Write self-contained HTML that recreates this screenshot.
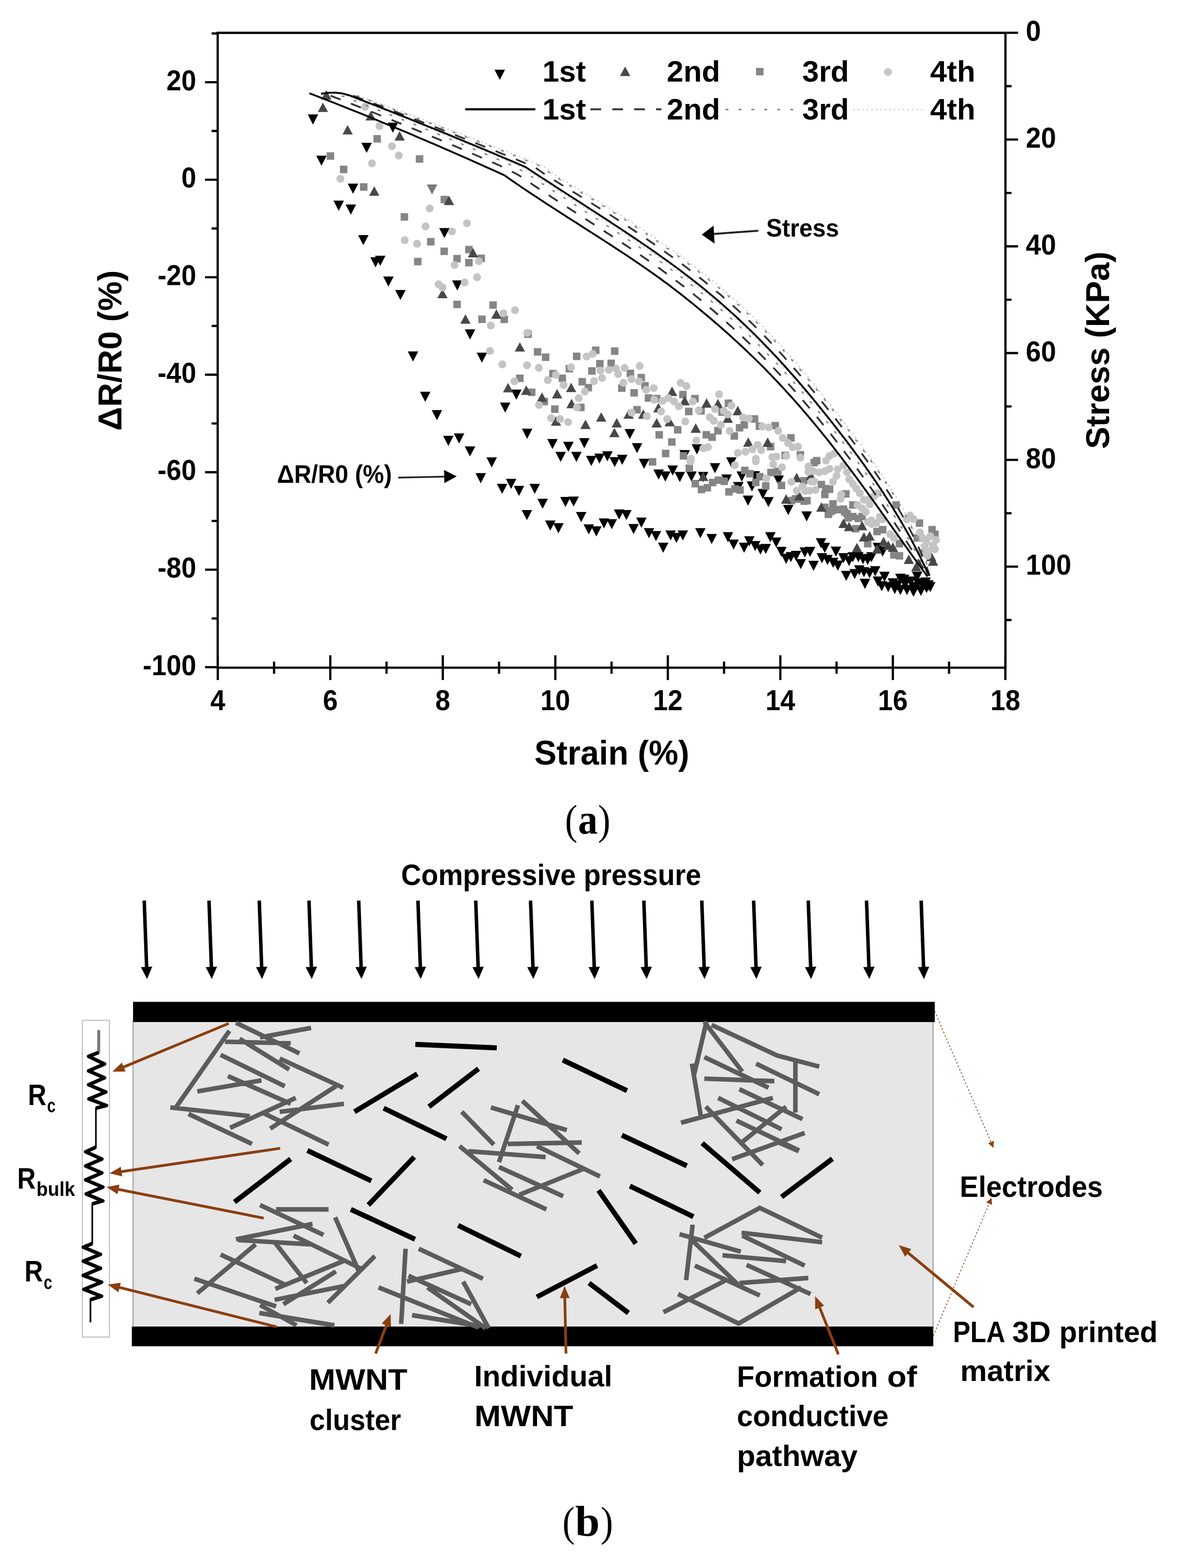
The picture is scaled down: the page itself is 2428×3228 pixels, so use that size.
<!DOCTYPE html>
<html lang="en"><head><meta charset="utf-8"><title>Figure</title>
<style>html,body{margin:0;padding:0;background:#fff}body{width:2428px;height:3228px;overflow:hidden}svg{display:block}text{white-space:pre}</style>
</head><body>
<svg width="2428" height="3228" viewBox="0 0 2428 3228"><g id="chart">
<g id="m1"><path d="M633.7 235.6h21.6L644.5 256.4z" fill="#000"/><path d="M651.2 320.4h21.6L662 341.2z" fill="#000"/><path d="M744.2 294h21.6L755 314.8z" fill="#000"/><path d="M798.2 252.4h21.6L809 273.2z" fill="#000"/><path d="M716.2 378.1h21.6L727 398.9z" fill="#000"/><path d="M686.7 413.1h21.6L697.5 433.9z" fill="#000"/><path d="M711.7 421.1h21.6L722.5 441.9z" fill="#000"/><path d="M737.4 483.9h21.6L748.2 504.7z" fill="#000"/><path d="M762.6 529.6h21.6L773.4 550.4z" fill="#000"/><path d="M772.2 526.5h21.6L783 547.3z" fill="#000"/><path d="M789.1 569.3h21.6L799.9 590.1z" fill="#000"/><path d="M813.8 596.9h21.6L824.6 617.7z" fill="#000"/><path d="M904.4 469.5h21.6L915.2 490.3z" fill="#000"/><path d="M930.9 577.2h21.6L941.7 598z" fill="#000"/><path d="M957.2 678.1h21.6L968 698.9z" fill="#000"/><path d="M839.7 723.5h21.6L850.5 744.3z" fill="#000"/><path d="M981.5 725.9h21.6L992.3 746.7z" fill="#000"/><path d="M864.9 806.4h21.6L875.7 827.2z" fill="#000"/><path d="M889 844.2h21.6L899.8 865z" fill="#000"/><path d="M1052.5 802.1h21.6L1063.3 822.9z" fill="#000"/><path d="M1029.6 828.8h21.6L1040.4 849.6z" fill="#000"/><path d="M912.5 897.2h21.6L923.3 918z" fill="#000"/><path d="M934.6 892.2h21.6L945.4 913z" fill="#000"/><path d="M957.1 919h21.6L967.9 939.8z" fill="#000"/><path d="M1001.8 941.6h21.6L1012.6 962.4z" fill="#000"/><path d="M1074.8 882.6h21.6L1085.6 903.4z" fill="#000"/><path d="M1126.9 903.8h21.6L1137.7 924.6z" fill="#000"/><path d="M1159.7 909.4h21.6L1170.5 930.2z" fill="#000"/><path d="M1143.8 930.2h21.6L1154.6 951z" fill="#000"/><path d="M1176.2 930.2h21.6L1187 951z" fill="#000"/><path d="M1192.5 901.9h21.6L1203.3 922.7z" fill="#000"/><path d="M979.2 974.1h21.6L990 994.9z" fill="#000"/><path d="M1206.9 938.6h21.6L1217.7 959.4z" fill="#000"/><path d="M1223.7 933.8h21.6L1234.5 954.6z" fill="#000"/><path d="M1240.1 929h21.6L1250.9 949.8z" fill="#000"/><path d="M1255 941h21.6L1265.8 961.8z" fill="#000"/><path d="M1270.6 936.2h21.6L1281.4 957z" fill="#000"/><path d="M1286.2 883.3h21.6L1297 904.1z" fill="#000"/><path d="M1301.1 912.2h21.6L1311.9 933z" fill="#000"/><path d="M1315.6 944.4h21.6L1326.4 965.2z" fill="#000"/><path d="M1345.6 966.6h21.6L1356.4 987.4z" fill="#000"/><path d="M1374.5 958.2h21.6L1385.3 979z" fill="#000"/><path d="M1424.4 914.6h21.6L1435.2 935.4z" fill="#000"/><path d="M1461.6 953.4h21.6L1472.4 974.2z" fill="#000"/><path d="M1495.3 941.4h21.6L1506.1 962.2z" fill="#000"/><path d="M1389.2 971.6h21.6L1400 992.4z" fill="#000"/><path d="M1413.2 970.6h21.6L1424 991.4z" fill="#000"/><path d="M1437.2 971.6h21.6L1448 992.4z" fill="#000"/><path d="M1399.2 926.6h21.6L1410 947.4z" fill="#000"/><path d="M1023.3 995.9h21.6L1034.1 1016.7z" fill="#000"/><path d="M1041.8 985.8h21.6L1052.6 1006.6z" fill="#000"/><path d="M1058 1000.2h21.6L1068.8 1021z" fill="#000"/><path d="M1090.4 995.9h21.6L1101.2 1016.7z" fill="#000"/><path d="M1106.7 1026.7h21.6L1117.5 1047.5z" fill="#000"/><path d="M1074.3 1050h21.6L1085.1 1070.8z" fill="#000"/><path d="M1153.6 1023.1h21.6L1164.4 1043.9z" fill="#000"/><path d="M1170.5 1022.3h21.6L1181.3 1043.1z" fill="#000"/><path d="M1186.1 1054.1h21.6L1196.9 1074.9z" fill="#000"/><path d="M1122.4 1071.6h21.6L1133.2 1092.4z" fill="#000"/><path d="M1139.2 1077.1h21.6L1150 1097.9z" fill="#000"/><path d="M1201.7 1079.5h21.6L1212.5 1100.3z" fill="#000"/><path d="M1217.3 1083.6h21.6L1228.1 1104.4z" fill="#000"/><path d="M1233 1067.3h21.6L1243.8 1088.1z" fill="#000"/><path d="M1249.1 1068.7h21.6L1259.9 1089.5z" fill="#000"/><path d="M1264.2 1048.8h21.6L1275 1069.6z" fill="#000"/><path d="M1279.2 1050h21.6L1290 1070.8z" fill="#000"/><path d="M1294 1078.8h21.6L1304.8 1099.6z" fill="#000"/><path d="M1310.1 1065.6h21.6L1320.9 1086.4z" fill="#000"/><path d="M1325.7 1087.2h21.6L1336.5 1108z" fill="#000"/><path d="M1340.1 1093.2h21.6L1350.9 1114z" fill="#000"/><path d="M1355 1117.3h21.6L1365.8 1138.1z" fill="#000"/><path d="M1370.2 1092h21.6L1381 1112.8z" fill="#000"/><path d="M1382.2 1096.9h21.6L1393 1117.7z" fill="#000"/><path d="M1395.4 1092h21.6L1406.2 1112.8z" fill="#000"/><path d="M1431.5 1087.2h21.6L1442.3 1108z" fill="#000"/><path d="M1454.8 1099.3h21.6L1465.6 1120.1z" fill="#000"/><path d="M1488.4 1095.6h21.6L1499.2 1116.4z" fill="#000"/><path d="M1500 1110.8h21.6L1510.8 1131.6z" fill="#000"/><path d="M1521.6 1117.3h21.6L1532.4 1138.1z" fill="#000"/><path d="M1532.4 1104.1h21.6L1543.2 1124.9z" fill="#000"/><path d="M1544.4 1113.7h21.6L1555.2 1134.5z" fill="#000"/><path d="M1555.3 1120.9h21.6L1566.1 1141.7z" fill="#000"/><path d="M1566.1 1119.7h21.6L1576.9 1140.5z" fill="#000"/><path d="M1575.7 1095.6h21.6L1586.5 1116.4z" fill="#000"/><path d="M1587.7 1106.5h21.6L1598.5 1127.3z" fill="#000"/><path d="M1598.5 1125.7h21.6L1609.3 1146.5z" fill="#000"/><path d="M1608.1 1140.1h21.6L1618.9 1160.9z" fill="#000"/><path d="M1617.8 1136.5h21.6L1628.6 1157.3z" fill="#000"/><path d="M1628.6 1134.1h21.6L1639.4 1154.9z" fill="#000"/><path d="M1638.2 1150.9h21.6L1649 1171.7z" fill="#000"/><path d="M1646.6 1126.9h21.6L1657.4 1147.7z" fill="#000"/><path d="M1657.4 1125.7h21.6L1668.2 1146.5z" fill="#000"/><path d="M1664.6 1154.5h21.6L1675.4 1175.3z" fill="#000"/><path d="M1359.3 970.6h21.6L1370.1 991.4z" fill="#000"/><path d="M1485.5 976.7h21.6L1496.3 997.5z" fill="#000"/><path d="M1516.8 970.6h21.6L1527.6 991.4z" fill="#000"/><path d="M1537.7 990.9h21.6L1548.5 1011.7z" fill="#000"/><path d="M1529.7 1020.2h21.6L1540.5 1041z" fill="#000"/><path d="M1560.2 1006.6h21.6L1571 1027.4z" fill="#000"/><path d="M1571.7 1023.2h21.6L1582.5 1044z" fill="#000"/><path d="M1592.7 978.8h21.6L1603.5 999.6z" fill="#000"/><path d="M1612.5 1039.6h21.6L1623.3 1060.4z" fill="#000"/><path d="M1650.4 1052.8h21.6L1661.2 1073.6z" fill="#000"/><path d="M1509.6 992.3h21.6L1520.4 1013.1z" fill="#000"/><path d="M1543.6 970.1h21.6L1554.4 990.9z" fill="#000"/><path d="M1680 1107.9h21.6L1690.8 1128.7z" fill="#000"/><path d="M1687.7 1117.5h21.6L1698.5 1138.3z" fill="#000"/><path d="M1710.7 1125.2h21.6L1721.5 1146z" fill="#000"/><path d="M1681.9 1138.7h21.6L1692.7 1159.5z" fill="#000"/><path d="M1693.4 1142.5h21.6L1704.2 1163.3z" fill="#000"/><path d="M1705 1148.3h21.6L1715.8 1169.1z" fill="#000"/><path d="M1714.6 1154.1h21.6L1725.4 1174.9z" fill="#000"/><path d="M1726.1 1138.7h21.6L1736.9 1159.5z" fill="#000"/><path d="M1737.7 1144.4h21.6L1748.5 1165.2z" fill="#000"/><path d="M1745.4 1136.8h21.6L1756.2 1157.6z" fill="#000"/><path d="M1756.9 1136.8h21.6L1767.7 1157.6z" fill="#000"/><path d="M1766.5 1140.6h21.6L1777.3 1161.4z" fill="#000"/><path d="M1776.1 1142.5h21.6L1786.9 1163.3z" fill="#000"/><path d="M1783.8 1136.8h21.6L1794.6 1157.6z" fill="#000"/><path d="M1806.9 1125.2h21.6L1817.7 1146z" fill="#000"/><path d="M1797.2 1117.6h21.6L1808 1138.4z" fill="#000"/><path d="M1731.9 1175.2h21.6L1742.7 1196z" fill="#000"/><path d="M1749.2 1171.4h21.6L1760 1192.2z" fill="#000"/><path d="M1758.8 1163.7h21.6L1769.6 1184.5z" fill="#000"/><path d="M1768.4 1167.5h21.6L1779.2 1188.3z" fill="#000"/><path d="M1780 1169.4h21.6L1790.8 1190.2z" fill="#000"/><path d="M1791.5 1165.6h21.6L1802.3 1186.4z" fill="#000"/><path d="M1770.4 1191.6h21.6L1781.2 1212.4z" fill="#000"/><path d="M1810.7 1177.1h21.6L1821.5 1197.9z" fill="#000"/><path d="M1797.3 1186.8h21.6L1808.1 1207.6z" fill="#000"/><path d="M1805 1196.4h21.6L1815.8 1217.2z" fill="#000"/><path d="M1818.4 1198.3h21.6L1829.2 1219.1z" fill="#000"/><path d="M1828 1190.6h21.6L1838.8 1211.4z" fill="#000"/><path d="M1837.7 1194.4h21.6L1848.5 1215.2z" fill="#000"/><path d="M1843.4 1181h21.6L1854.2 1201.8z" fill="#000"/><path d="M1843.4 1204.1h21.6L1854.2 1224.9z" fill="#000"/><path d="M1853 1192.5h21.6L1863.8 1213.3z" fill="#000"/><path d="M1856.9 1204.1h21.6L1867.7 1224.9z" fill="#000"/><path d="M1864.6 1186.8h21.6L1875.4 1207.6z" fill="#000"/><path d="M1870.4 1198.3h21.6L1881.2 1219.1z" fill="#000"/><path d="M1878 1177.1h21.6L1888.8 1197.9z" fill="#000"/><path d="M1880 1190.6h21.6L1890.8 1211.4z" fill="#000"/><path d="M1885.7 1206h21.6L1896.5 1226.8z" fill="#000"/><path d="M1889.6 1194.4h21.6L1900.4 1215.2z" fill="#000"/><path d="M1897.3 1200.2h21.6L1908.1 1221z" fill="#000"/><path d="M1901.1 1194.4h21.6L1911.9 1215.2z" fill="#000"/><path d="M1905 1198.3h21.6L1915.8 1219.1z" fill="#000"/><path d="M1895.4 1188.7h21.6L1906.2 1209.5z" fill="#000"/><path d="M1870.4 1207.9h21.6L1881.2 1228.7z" fill="#000"/><path d="M1831.9 1202.1h21.6L1842.7 1222.9z" fill="#000"/><path d="M1851.1 1182.9h21.6L1861.9 1203.7z" fill="#000"/></g>
<g id="m1g"><path d="M878.9 379.8h21.6L889.7 400.6z" fill="#7a7a7a"/></g>
<g id="m3"><rect x="672.8" y="313.5" width="15.4" height="15.4" fill="#858585"/><rect x="769" y="278.1" width="15.4" height="15.4" fill="#858585"/><rect x="700" y="341.1" width="15.4" height="15.4" fill="#858585"/><rect x="741.3" y="377.2" width="15.4" height="15.4" fill="#858585"/><rect x="856.3" y="319.5" width="15.4" height="15.4" fill="#858585"/><rect x="907.3" y="403.1" width="15.4" height="15.4" fill="#858585"/><rect x="825.1" y="438.9" width="15.4" height="15.4" fill="#858585"/><rect x="879.4" y="489.9" width="15.4" height="15.4" fill="#858585"/><rect x="907.1" y="509.7" width="15.4" height="15.4" fill="#858585"/><rect x="852.7" y="530.8" width="15.4" height="15.4" fill="#858585"/><rect x="958" y="506.1" width="15.4" height="15.4" fill="#858585"/><rect x="933.5" y="524.8" width="15.4" height="15.4" fill="#858585"/><rect x="958" y="533" width="15.4" height="15.4" fill="#858585"/><rect x="983.3" y="524.1" width="15.4" height="15.4" fill="#858585"/><rect x="933.5" y="619" width="15.4" height="15.4" fill="#858585"/><rect x="1007.8" y="620.3" width="15.4" height="15.4" fill="#858585"/><rect x="984.9" y="649.6" width="15.4" height="15.4" fill="#858585"/><rect x="1030.8" y="649.8" width="15.4" height="15.4" fill="#858585"/><rect x="1079.7" y="680.3" width="15.4" height="15.4" fill="#858585"/><rect x="1099.3" y="716.7" width="15.4" height="15.4" fill="#858585"/><rect x="1115.9" y="727.7" width="15.4" height="15.4" fill="#858585"/><rect x="1179.9" y="725.9" width="15.4" height="15.4" fill="#858585"/><rect x="1062.9" y="771.1" width="15.4" height="15.4" fill="#858585"/><rect x="1087.3" y="799.9" width="15.4" height="15.4" fill="#858585"/><rect x="1131" y="761.5" width="15.4" height="15.4" fill="#858585"/><rect x="1150.3" y="771.1" width="15.4" height="15.4" fill="#858585"/><rect x="1164.7" y="751.3" width="15.4" height="15.4" fill="#858585"/><rect x="1113.2" y="818.9" width="15.4" height="15.4" fill="#858585"/><rect x="1134.8" y="834.6" width="15.4" height="15.4" fill="#858585"/><rect x="1191.3" y="778.1" width="15.4" height="15.4" fill="#858585"/><rect x="1188.6" y="831" width="15.4" height="15.4" fill="#858585"/><rect x="1219.1" y="713.4" width="15.4" height="15.4" fill="#858585"/><rect x="1258.2" y="715.1" width="15.4" height="15.4" fill="#858585"/><rect x="1227.6" y="741.1" width="15.4" height="15.4" fill="#858585"/><rect x="1250.9" y="740.3" width="15.4" height="15.4" fill="#858585"/><rect x="1211.3" y="756" width="15.4" height="15.4" fill="#858585"/><rect x="1203.9" y="790.3" width="15.4" height="15.4" fill="#858585"/><rect x="1290.5" y="761" width="15.4" height="15.4" fill="#858585"/><rect x="1312.9" y="769.7" width="15.4" height="15.4" fill="#858585"/><rect x="1272.8" y="791.4" width="15.4" height="15.4" fill="#858585"/><rect x="1298.2" y="801" width="15.4" height="15.4" fill="#858585"/><rect x="1320.6" y="786.5" width="15.4" height="15.4" fill="#858585"/><rect x="1327.8" y="811.7" width="15.4" height="15.4" fill="#858585"/><rect x="1344.6" y="812.9" width="15.4" height="15.4" fill="#858585"/><rect x="1398.7" y="804.5" width="15.4" height="15.4" fill="#858585"/><rect x="1423.5" y="812.9" width="15.4" height="15.4" fill="#858585"/><rect x="1304.2" y="835.8" width="15.4" height="15.4" fill="#858585"/><rect x="1410.7" y="839.4" width="15.4" height="15.4" fill="#858585"/><rect x="1387.9" y="877.1" width="15.4" height="15.4" fill="#858585"/><rect x="1349.9" y="887.4" width="15.4" height="15.4" fill="#858585"/><rect x="1375.9" y="902.3" width="15.4" height="15.4" fill="#858585"/><rect x="1363.1" y="925.9" width="15.4" height="15.4" fill="#858585"/><rect x="1336.1" y="943.1" width="15.4" height="15.4" fill="#858585"/><rect x="1399.9" y="930.7" width="15.4" height="15.4" fill="#858585"/><rect x="1411.8" y="956.3" width="15.4" height="15.4" fill="#858585"/><rect x="1446.8" y="887.4" width="15.4" height="15.4" fill="#858585"/><rect x="1458.8" y="892.3" width="15.4" height="15.4" fill="#858585"/><rect x="1470.8" y="879" width="15.4" height="15.4" fill="#858585"/><rect x="1492.4" y="822.5" width="15.4" height="15.4" fill="#858585"/><rect x="1504.5" y="889.8" width="15.4" height="15.4" fill="#858585"/><rect x="1515.3" y="873" width="15.4" height="15.4" fill="#858585"/><rect x="1524.9" y="867" width="15.4" height="15.4" fill="#858585"/><rect x="1546.3" y="854.8" width="15.4" height="15.4" fill="#858585"/><rect x="1436" y="838.2" width="15.4" height="15.4" fill="#858585"/><rect x="1479.2" y="840.6" width="15.4" height="15.4" fill="#858585"/><rect x="1526.1" y="960.8" width="15.4" height="15.4" fill="#858585"/><rect x="1424.2" y="988" width="15.4" height="15.4" fill="#858585"/><rect x="1437" y="1000" width="15.4" height="15.4" fill="#858585"/><rect x="1449" y="996.4" width="15.4" height="15.4" fill="#858585"/><rect x="1459.8" y="985.6" width="15.4" height="15.4" fill="#858585"/><rect x="1471.8" y="980.8" width="15.4" height="15.4" fill="#858585"/><rect x="1483.8" y="983.2" width="15.4" height="15.4" fill="#858585"/><rect x="1493.5" y="1004.8" width="15.4" height="15.4" fill="#858585"/><rect x="1505.5" y="998.8" width="15.4" height="15.4" fill="#858585"/><rect x="1516.3" y="1001.2" width="15.4" height="15.4" fill="#858585"/><rect x="1536.7" y="967.5" width="15.4" height="15.4" fill="#858585"/><rect x="1548.7" y="985.6" width="15.4" height="15.4" fill="#858585"/><rect x="1557.2" y="973.6" width="15.4" height="15.4" fill="#858585"/><rect x="1569.2" y="992.8" width="15.4" height="15.4" fill="#858585"/><rect x="1580" y="965.1" width="15.4" height="15.4" fill="#858585"/><rect x="1594.4" y="962.7" width="15.4" height="15.4" fill="#858585"/><rect x="1601.6" y="991.6" width="15.4" height="15.4" fill="#858585"/><rect x="1622.1" y="1022.8" width="15.4" height="15.4" fill="#858585"/><rect x="1630.5" y="1019.2" width="15.4" height="15.4" fill="#858585"/><rect x="1648.5" y="1024" width="15.4" height="15.4" fill="#858585"/><rect x="1647.3" y="982" width="15.4" height="15.4" fill="#858585"/><rect x="1668.9" y="944.7" width="15.4" height="15.4" fill="#858585"/><rect x="1588.8" y="868.5" width="15.4" height="15.4" fill="#858585"/><rect x="1621.2" y="893.7" width="15.4" height="15.4" fill="#858585"/><rect x="1556.3" y="869.7" width="15.4" height="15.4" fill="#858585"/><rect x="1579.2" y="911.7" width="15.4" height="15.4" fill="#858585"/><rect x="1640.5" y="928.6" width="15.4" height="15.4" fill="#858585"/><rect x="1609.2" y="929.8" width="15.4" height="15.4" fill="#858585"/><rect x="1674.1" y="940.6" width="15.4" height="15.4" fill="#858585"/><rect x="1683.7" y="989.8" width="15.4" height="15.4" fill="#858585"/><rect x="1700.6" y="999.5" width="15.4" height="15.4" fill="#858585"/><rect x="1691" y="1010.3" width="15.4" height="15.4" fill="#858585"/><rect x="1734.2" y="1009.1" width="15.4" height="15.4" fill="#858585"/><rect x="1635.7" y="1019.9" width="15.4" height="15.4" fill="#858585"/><rect x="1691" y="1036.7" width="15.4" height="15.4" fill="#858585"/><rect x="1707.8" y="1029.5" width="15.4" height="15.4" fill="#858585"/><rect x="1705.4" y="1043.9" width="15.4" height="15.4" fill="#858585"/><rect x="1719.8" y="1041.5" width="15.4" height="15.4" fill="#858585"/><rect x="1731.8" y="1046.3" width="15.4" height="15.4" fill="#858585"/><rect x="1698.2" y="1051.1" width="15.4" height="15.4" fill="#858585"/><rect x="1739" y="1058.4" width="15.4" height="15.4" fill="#858585"/><rect x="1748.6" y="1031.9" width="15.4" height="15.4" fill="#858585"/><rect x="1837.6" y="1031.9" width="15.4" height="15.4" fill="#858585"/><rect x="1885.7" y="1069.2" width="15.4" height="15.4" fill="#858585"/><rect x="1692.7" y="998.1" width="15.4" height="15.4" fill="#858585"/><rect x="1654.2" y="1023.1" width="15.4" height="15.4" fill="#858585"/><rect x="1700.4" y="1046.1" width="15.4" height="15.4" fill="#858585"/><rect x="1729.2" y="1040.4" width="15.4" height="15.4" fill="#858585"/><rect x="1736.9" y="1050" width="15.4" height="15.4" fill="#858585"/><rect x="1748.5" y="1055.8" width="15.4" height="15.4" fill="#858585"/><rect x="1760" y="1059.6" width="15.4" height="15.4" fill="#858585"/><rect x="1767.7" y="1055.8" width="15.4" height="15.4" fill="#858585"/><rect x="1754.2" y="1080.8" width="15.4" height="15.4" fill="#858585"/><rect x="1779.2" y="1111.5" width="15.4" height="15.4" fill="#858585"/><rect x="1798.5" y="1086.5" width="15.4" height="15.4" fill="#858585"/><rect x="1810" y="1082.7" width="15.4" height="15.4" fill="#858585"/><rect x="1833.1" y="1134.6" width="15.4" height="15.4" fill="#858585"/><rect x="1844.6" y="1136.5" width="15.4" height="15.4" fill="#858585"/><rect x="1844.6" y="1111.5" width="15.4" height="15.4" fill="#858585"/><rect x="1911.9" y="1082.7" width="15.4" height="15.4" fill="#858585"/><rect x="1917.7" y="1092.3" width="15.4" height="15.4" fill="#858585"/><rect x="1881.1" y="1100" width="15.4" height="15.4" fill="#858585"/></g>
<g id="m2"><path d="M654.4 230.6h21.2L665 211.2z" fill="#484848"/><path d="M705.3 276.8h21.2L715.9 257.4z" fill="#484848"/><path d="M812.4 289.5h21.2L823 270.1z" fill="#484848"/><path d="M760.1 403h21.2L770.7 383.6z" fill="#484848"/><path d="M913.9 422.2h21.2L924.5 402.8z" fill="#484848"/><path d="M661.4 205h21.2L672 185.6z" fill="#484848"/><path d="M752.9 248h21.2L763.5 228.6z" fill="#484848"/><path d="M963.5 530h21.2L974.1 510.6z" fill="#484848"/><path d="M900.6 614.1h21.2L911.2 594.7z" fill="#484848"/><path d="M947.9 666.5h21.2L958.5 647.1z" fill="#484848"/><path d="M1011.6 656.2h21.2L1022.2 636.8z" fill="#484848"/><path d="M1060 723.8h21.2L1070.6 704.4z" fill="#484848"/><path d="M1035.7 807.8h21.2L1046.3 788.4z" fill="#484848"/><path d="M1073.1 812.9h21.2L1083.7 793.5z" fill="#484848"/><path d="M1105.5 827.2h21.2L1116.1 807.8z" fill="#484848"/><path d="M1136.7 820.2h21.2L1147.3 800.8z" fill="#484848"/><path d="M1165.6 807.3h21.2L1176.2 787.9z" fill="#484848"/><path d="M1166.4 840.4h21.2L1177 821z" fill="#484848"/><path d="M1134.4 876.5h21.2L1145 857.1z" fill="#484848"/><path d="M1195.1 883.2h21.2L1205.7 863.8z" fill="#484848"/><path d="M1227.5 868.1h21.2L1238.1 848.7z" fill="#484848"/><path d="M1259.5 880.1h21.2L1270.1 860.7z" fill="#484848"/><path d="M1254.7 900.1h21.2L1265.3 880.7z" fill="#484848"/><path d="M1284 862.1h21.2L1294.6 842.7z" fill="#484848"/><path d="M1314.1 862.1h21.2L1324.7 842.7z" fill="#484848"/><path d="M1341.7 880.1h21.2L1352.3 860.7z" fill="#484848"/><path d="M1345.3 848.9h21.2L1355.9 829.5z" fill="#484848"/><path d="M1368.6 877.7h21.2L1379.2 858.3z" fill="#484848"/><path d="M1373.4 815.2h21.2L1384 795.8z" fill="#484848"/><path d="M1399.4 834.4h21.2L1410 815z" fill="#484848"/><path d="M1422.2 890.9h21.2L1432.8 871.5z" fill="#484848"/><path d="M1444.6 839.2h21.2L1455.2 819.8z" fill="#484848"/><path d="M1467.9 840.4h21.2L1478.5 821z" fill="#484848"/><path d="M1488.3 870.5h21.2L1498.9 851.1z" fill="#484848"/><path d="M1508.8 854.9h21.2L1519.4 835.5z" fill="#484848"/><path d="M1530.4 919.8h21.2L1541 900.4z" fill="#484848"/><path d="M1437.7 990.3h21.2L1448.3 970.9z" fill="#484848"/><path d="M1608.3 1037h21.2L1618.9 1017.6z" fill="#484848"/><path d="M1630 992.7h21.2L1640.6 973.3z" fill="#484848"/><path d="M1635.4 1030.2h21.2L1646 1010.8z" fill="#484848"/><path d="M1570.3 920h21.2L1580.9 900.6z" fill="#484848"/><path d="M1680.8 1053.4h21.2L1691.4 1034z" fill="#484848"/><path d="M1659.2 988.5h21.2L1669.8 969.1z" fill="#484848"/><path d="M1726.5 1087h21.2L1737.1 1067.6z" fill="#484848"/><path d="M1737.9 1093.6h21.2L1748.5 1074.2z" fill="#484848"/><path d="M1764.8 1091.7h21.2L1775.4 1072.3z" fill="#484848"/><path d="M1768.6 1114.8h21.2L1779.2 1095.4z" fill="#484848"/><path d="M1780.2 1112.8h21.2L1790.8 1093.4z" fill="#484848"/><path d="M1754.2 1136.9h21.2L1764.8 1117.5z" fill="#484848"/><path d="M1795.6 1139.8h21.2L1806.2 1120.4z" fill="#484848"/><path d="M1809 1124.4h21.2L1819.6 1105z" fill="#484848"/><path d="M1818.6 1132.1h21.2L1829.2 1112.7z" fill="#484848"/><path d="M1828.2 1135.9h21.2L1838.8 1116.5z" fill="#484848"/><path d="M1860.9 1160.9h21.2L1871.5 1141.5z" fill="#484848"/><path d="M1876.3 1176.3h21.2L1886.9 1156.9z" fill="#484848"/><path d="M1907.1 1155.2h21.2L1917.7 1135.8z" fill="#484848"/><path d="M1910.9 1164.8h21.2L1921.5 1145.4z" fill="#484848"/></g>
<g id="m4"><circle cx="752" cy="220" r="8.1" fill="#c4c4c4"/><circle cx="781.5" cy="259.4" r="8.1" fill="#c4c4c4"/><circle cx="807.2" cy="301" r="8.1" fill="#c4c4c4"/><circle cx="821.2" cy="320.2" r="8.1" fill="#c4c4c4"/><circle cx="765.9" cy="336.3" r="8.1" fill="#c4c4c4"/><circle cx="701" cy="368" r="8.1" fill="#c4c4c4"/><circle cx="885" cy="429" r="8.1" fill="#c4c4c4"/><circle cx="876.3" cy="466.2" r="8.1" fill="#c4c4c4"/><circle cx="961.6" cy="459.7" r="8.1" fill="#c4c4c4"/><circle cx="930.9" cy="476.5" r="8.1" fill="#c4c4c4"/><circle cx="833.5" cy="494.5" r="8.1" fill="#c4c4c4"/><circle cx="858.8" cy="501.7" r="8.1" fill="#c4c4c4"/><circle cx="936.2" cy="545.5" r="8.1" fill="#c4c4c4"/><circle cx="986.2" cy="537.8" r="8.1" fill="#c4c4c4"/><circle cx="982.5" cy="570.7" r="8.1" fill="#c4c4c4"/><circle cx="956.8" cy="581.5" r="8.1" fill="#c4c4c4"/><circle cx="903.2" cy="585.4" r="8.1" fill="#c4c4c4"/><circle cx="911.2" cy="591.9" r="8.1" fill="#c4c4c4"/><circle cx="1010.8" cy="670.2" r="8.1" fill="#c4c4c4"/><circle cx="1036.5" cy="645" r="8.1" fill="#c4c4c4"/><circle cx="1009" cy="722.5" r="8.1" fill="#c4c4c4"/><circle cx="1060.6" cy="638.7" r="8.1" fill="#c4c4c4"/><circle cx="1086" cy="685" r="8.1" fill="#c4c4c4"/><circle cx="1034.5" cy="750.2" r="8.1" fill="#c4c4c4"/><circle cx="1085.5" cy="752.1" r="8.1" fill="#c4c4c4"/><circle cx="1109.6" cy="757.2" r="8.1" fill="#c4c4c4"/><circle cx="1176" cy="755.8" r="8.1" fill="#c4c4c4"/><circle cx="1059.4" cy="785" r="8.1" fill="#c4c4c4"/><circle cx="1128" cy="782.4" r="8.1" fill="#c4c4c4"/><circle cx="1144.6" cy="771.7" r="8.1" fill="#c4c4c4"/><circle cx="1160.6" cy="792.5" r="8.1" fill="#c4c4c4"/><circle cx="1110.1" cy="833.8" r="8.1" fill="#c4c4c4"/><circle cx="1191.8" cy="819.4" r="8.1" fill="#c4c4c4"/><circle cx="1188" cy="838.7" r="8.1" fill="#c4c4c4"/><circle cx="1134.9" cy="860.8" r="8.1" fill="#c4c4c4"/><circle cx="1153.4" cy="862.7" r="8.1" fill="#c4c4c4"/><circle cx="1170" cy="869" r="8.1" fill="#c4c4c4"/><circle cx="1208" cy="734" r="8.1" fill="#c4c4c4"/><circle cx="1220.6" cy="728.5" r="8.1" fill="#c4c4c4"/><circle cx="1236.7" cy="762.8" r="8.1" fill="#c4c4c4"/><circle cx="1253.8" cy="761.6" r="8.1" fill="#c4c4c4"/><circle cx="1268.7" cy="758.8" r="8.1" fill="#c4c4c4"/><circle cx="1286.3" cy="757.4" r="8.1" fill="#c4c4c4"/><circle cx="1273" cy="770" r="8.1" fill="#c4c4c4"/><circle cx="1317.5" cy="753.3" r="8.1" fill="#c4c4c4"/><circle cx="1239.8" cy="778.3" r="8.1" fill="#c4c4c4"/><circle cx="1223.4" cy="784.7" r="8.1" fill="#c4c4c4"/><circle cx="1204.5" cy="806.2" r="8.1" fill="#c4c4c4"/><circle cx="1283.8" cy="788.2" r="8.1" fill="#c4c4c4"/><circle cx="1300.3" cy="780.4" r="8.1" fill="#c4c4c4"/><circle cx="1316" cy="785.2" r="8.1" fill="#c4c4c4"/><circle cx="1330.7" cy="802.6" r="8.1" fill="#c4c4c4"/><circle cx="1346.3" cy="799" r="8.1" fill="#c4c4c4"/><circle cx="1347.5" cy="823" r="8.1" fill="#c4c4c4"/><circle cx="1364.3" cy="825.4" r="8.1" fill="#c4c4c4"/><circle cx="1376.3" cy="819.4" r="8.1" fill="#c4c4c4"/><circle cx="1388.4" cy="826.6" r="8.1" fill="#c4c4c4"/><circle cx="1398" cy="836.3" r="8.1" fill="#c4c4c4"/><circle cx="1361.4" cy="847.1" r="8.1" fill="#c4c4c4"/><circle cx="1373.9" cy="862.7" r="8.1" fill="#c4c4c4"/><circle cx="1401.6" cy="788.2" r="8.1" fill="#c4c4c4"/><circle cx="1413.6" cy="794.9" r="8.1" fill="#c4c4c4"/><circle cx="1426.8" cy="826.6" r="8.1" fill="#c4c4c4"/><circle cx="1438.8" cy="844.7" r="8.1" fill="#c4c4c4"/><circle cx="1411.2" cy="867.5" r="8.1" fill="#c4c4c4"/><circle cx="1300.6" cy="849.5" r="8.1" fill="#c4c4c4"/><circle cx="1331.9" cy="856.7" r="8.1" fill="#c4c4c4"/><circle cx="1480.9" cy="811.7" r="8.1" fill="#c4c4c4"/><circle cx="1472.5" cy="842.3" r="8.1" fill="#c4c4c4"/><circle cx="1506.2" cy="835" r="8.1" fill="#c4c4c4"/><circle cx="1490.5" cy="845.9" r="8.1" fill="#c4c4c4"/><circle cx="1498.9" cy="853.1" r="8.1" fill="#c4c4c4"/><circle cx="1461.7" cy="859.1" r="8.1" fill="#c4c4c4"/><circle cx="1470.1" cy="866.3" r="8.1" fill="#c4c4c4"/><circle cx="1484.5" cy="874.7" r="8.1" fill="#c4c4c4"/><circle cx="1502.5" cy="887.2" r="8.1" fill="#c4c4c4"/><circle cx="1530.2" cy="859.1" r="8.1" fill="#c4c4c4"/><circle cx="1542.2" cy="861.5" r="8.1" fill="#c4c4c4"/><circle cx="1434" cy="907.2" r="8.1" fill="#c4c4c4"/><circle cx="1448.5" cy="922.8" r="8.1" fill="#c4c4c4"/><circle cx="1458.1" cy="920.4" r="8.1" fill="#c4c4c4"/><circle cx="1423.2" cy="944.4" r="8.1" fill="#c4c4c4"/><circle cx="1519.4" cy="932.4" r="8.1" fill="#c4c4c4"/><circle cx="1535" cy="930" r="8.1" fill="#c4c4c4"/><circle cx="1549.4" cy="925.2" r="8.1" fill="#c4c4c4"/><circle cx="1513.4" cy="957.6" r="8.1" fill="#c4c4c4"/><circle cx="1556.6" cy="944.4" r="8.1" fill="#c4c4c4"/><circle cx="1592.5" cy="956" r="8.1" fill="#c4c4c4"/><circle cx="1610.5" cy="962" r="8.1" fill="#c4c4c4"/><circle cx="1578.1" cy="984.9" r="8.1" fill="#c4c4c4"/><circle cx="1629.8" cy="992.1" r="8.1" fill="#c4c4c4"/><circle cx="1664.6" cy="971.6" r="8.1" fill="#c4c4c4"/><circle cx="1652.6" cy="1001.7" r="8.1" fill="#c4c4c4"/><circle cx="1640.6" cy="1010.1" r="8.1" fill="#c4c4c4"/><circle cx="1667" cy="1010.1" r="8.1" fill="#c4c4c4"/><circle cx="1676.6" cy="990.9" r="8.1" fill="#c4c4c4"/><circle cx="1421.8" cy="950" r="8.1" fill="#c4c4c4"/><circle cx="1556.4" cy="950" r="8.1" fill="#c4c4c4"/><circle cx="1570" cy="878.1" r="8.1" fill="#c4c4c4"/><circle cx="1583.3" cy="879.8" r="8.1" fill="#c4c4c4"/><circle cx="1602.5" cy="887" r="8.1" fill="#c4c4c4"/><circle cx="1612.1" cy="901.4" r="8.1" fill="#c4c4c4"/><circle cx="1622.9" cy="912.2" r="8.1" fill="#c4c4c4"/><circle cx="1632.5" cy="920.6" r="8.1" fill="#c4c4c4"/><circle cx="1643.4" cy="919.4" r="8.1" fill="#c4c4c4"/><circle cx="1648.2" cy="942.3" r="8.1" fill="#c4c4c4"/><circle cx="1619.3" cy="938.7" r="8.1" fill="#c4c4c4"/><circle cx="1598.9" cy="939.9" r="8.1" fill="#c4c4c4"/><circle cx="1590.5" cy="941.1" r="8.1" fill="#c4c4c4"/><circle cx="1560.4" cy="915.8" r="8.1" fill="#c4c4c4"/><circle cx="1567.6" cy="926.6" r="8.1" fill="#c4c4c4"/><circle cx="1657.8" cy="1010.8" r="8.1" fill="#c4c4c4"/><circle cx="1671" cy="991.5" r="8.1" fill="#c4c4c4"/><circle cx="1679.4" cy="1008.4" r="8.1" fill="#c4c4c4"/><circle cx="1665" cy="960.3" r="8.1" fill="#c4c4c4"/><circle cx="1674.6" cy="969.9" r="8.1" fill="#c4c4c4"/><circle cx="1686.6" cy="972.3" r="8.1" fill="#c4c4c4"/><circle cx="1698.7" cy="969.9" r="8.1" fill="#c4c4c4"/><circle cx="1708.3" cy="965.1" r="8.1" fill="#c4c4c4"/><circle cx="1701.1" cy="948.3" r="8.1" fill="#c4c4c4"/><circle cx="1708.3" cy="938.7" r="8.1" fill="#c4c4c4"/><circle cx="1717.9" cy="933.8" r="8.1" fill="#c4c4c4"/><circle cx="1725.1" cy="966.3" r="8.1" fill="#c4c4c4"/><circle cx="1722.7" cy="979.5" r="8.1" fill="#c4c4c4"/><circle cx="1715.5" cy="991.5" r="8.1" fill="#c4c4c4"/><circle cx="1737.1" cy="957.9" r="8.1" fill="#c4c4c4"/><circle cx="1744.3" cy="972.3" r="8.1" fill="#c4c4c4"/><circle cx="1749.1" cy="986.7" r="8.1" fill="#c4c4c4"/><circle cx="1756.3" cy="996.3" r="8.1" fill="#c4c4c4"/><circle cx="1763.6" cy="1006" r="8.1" fill="#c4c4c4"/><circle cx="1770.8" cy="1015.6" r="8.1" fill="#c4c4c4"/><circle cx="1732.3" cy="1018" r="8.1" fill="#c4c4c4"/><circle cx="1766" cy="1039.6" r="8.1" fill="#c4c4c4"/><circle cx="1775.6" cy="1046.8" r="8.1" fill="#c4c4c4"/><circle cx="1782.8" cy="1054" r="8.1" fill="#c4c4c4"/><circle cx="1792.4" cy="1025.2" r="8.1" fill="#c4c4c4"/><circle cx="1806.8" cy="1015.6" r="8.1" fill="#c4c4c4"/><circle cx="1811.6" cy="1063.7" r="8.1" fill="#c4c4c4"/><circle cx="1874.1" cy="1061.3" r="8.1" fill="#c4c4c4"/><circle cx="1881.3" cy="1068.5" r="8.1" fill="#c4c4c4"/><circle cx="1787.6" cy="1074.5" r="8.1" fill="#c4c4c4"/><circle cx="1731.2" cy="1026.9" r="8.1" fill="#c4c4c4"/><circle cx="1779.2" cy="1028.8" r="8.1" fill="#c4c4c4"/><circle cx="1790.8" cy="1038.5" r="8.1" fill="#c4c4c4"/><circle cx="1800.4" cy="1021.2" r="8.1" fill="#c4c4c4"/><circle cx="1817.7" cy="1069.2" r="8.1" fill="#c4c4c4"/><circle cx="1794.6" cy="1078.8" r="8.1" fill="#c4c4c4"/><circle cx="1804.2" cy="1076.9" r="8.1" fill="#c4c4c4"/><circle cx="1794.6" cy="1071.2" r="8.1" fill="#c4c4c4"/><circle cx="1833.1" cy="1100" r="8.1" fill="#c4c4c4"/><circle cx="1840.8" cy="1107.7" r="8.1" fill="#c4c4c4"/><circle cx="1867.7" cy="1069.2" r="8.1" fill="#c4c4c4"/><circle cx="1894.6" cy="1096.2" r="8.1" fill="#c4c4c4"/><circle cx="1900.4" cy="1107.7" r="8.1" fill="#c4c4c4"/><circle cx="1908.1" cy="1115.4" r="8.1" fill="#c4c4c4"/><circle cx="1915.8" cy="1103.8" r="8.1" fill="#c4c4c4"/><circle cx="1927.3" cy="1111.5" r="8.1" fill="#c4c4c4"/><circle cx="1921.5" cy="1123.1" r="8.1" fill="#c4c4c4"/><circle cx="1925.4" cy="1130.8" r="8.1" fill="#c4c4c4"/><circle cx="1911.9" cy="1134.6" r="8.1" fill="#c4c4c4"/><circle cx="1904.2" cy="1125" r="8.1" fill="#c4c4c4"/><circle cx="1898.5" cy="1138.5" r="8.1" fill="#c4c4c4"/><circle cx="1910" cy="1144.2" r="8.1" fill="#c4c4c4"/></g>
<g id="curves" stroke-linejoin="round">
<path d="M714.2 197 L727 201.9 L739.7 206.9 L752.4 211.8 L765.1 216.8 L777.7 221.7 L790.2 226.7 L802.7 231.6 L815.2 236.6 L827.6 241.5 L839.9 246.4 L852.3 251.4 L864.5 256.3 L876.7 261.3 L888.9 266.2 L901 271.2 L913.1 276.1 L925.1 281.1 L937.1 286 L949 291 L960.9 295.9 L972.8 300.8 L984.6 305.8 L996.4 310.7 L1008.1 315.7 L1019.8 320.6 L1031.5 325.6 L1043.1 330.5 L1054.7 335.5 L1066.2 340.4 L1076.5 345.4 L1084.3 350.3 L1092.2 355.2 L1100.1 360.2 L1107.7 365.1 L1115.2 370.1 L1122.8 375 L1130.4 380 L1138 384.9 L1145.6 389.9 L1153.3 394.8 L1160.9 399.7 L1168.6 404.7 L1176.3 409.6 L1183.9 414.6 L1191.6 419.5 L1199.3 424.5 L1206.9 429.4 L1214.6 434.4 L1222.2 439.3 L1229.8 444.2 L1237.5 449.2 L1245.1 454.1 L1252.6 459.1 L1260.2 464 L1267.7 469 L1275.2 473.9 L1282.7 478.9 L1290.1 483.8 L1297.5 488.8 L1304.9 493.7 L1312.2 498.6 L1319.5 503.6 L1326.8 508.5 L1334 513.5 L1341.1 518.4 L1348.2 523.4 L1355.2 528.3 L1362.2 533.3 L1369.1 538.2 L1376 543.1 L1382.8 548.1 L1389.5 553 L1396.2 558 L1402.8 562.9 L1409.3 567.9 L1415.7 572.8 L1422.1 577.8 L1428.4 582.7 L1434.7 587.7 L1440.8 592.6 L1446.9 597.5 L1453 602.5 L1458.9 607.4 L1464.8 612.4 L1470.7 617.3 L1476.5 622.3 L1482.2 627.2 L1487.9 632.2 L1493.5 637.1 L1499 642 L1504.5 647 L1510 651.9 L1515.3 656.9 L1520.7 661.8 L1526 666.8 L1531.2 671.7 L1536.4 676.7 L1541.5 681.6 L1546.6 686.6 L1551.7 691.5 L1556.7 696.4 L1561.6 701.4 L1566.5 706.3 L1571.4 711.3 L1576.2 716.2 L1581 721.2 L1585.7 726.1 L1590.4 731.1 L1595.1 736 L1599.7 741 L1604.3 745.9 L1608.8 750.8 L1613.3 755.8 L1617.8 760.7 L1622.3 765.7 L1626.7 770.6 L1631 775.6 L1635.4 780.5 L1639.7 785.5 L1644 790.4 L1648.3 795.3 L1652.5 800.3 L1656.7 805.2 L1660.9 810.2 L1665.1 815.1 L1669.2 820.1 L1673.3 825 L1677.4 830 L1681.5 834.9 L1685.5 839.9 L1689.6 844.8 L1693.6 849.7 L1697.6 854.7 L1701.6 859.6 L1705.5 864.6 L1709.5 869.5 L1713.4 874.5 L1717.3 879.4 L1721.2 884.4 L1725.1 889.3 L1728.9 894.2 L1732.7 899.2 L1736.5 904.1 L1740.3 909.1 L1744.1 914 L1747.8 919 L1751.5 923.9 L1755.2 928.9 L1758.9 933.8 L1762.5 938.8 L1766.2 943.7 L1769.8 948.6 L1773.4 953.6 L1776.9 958.5 L1780.5 963.5 L1784 968.4 L1787.5 973.4 L1790.9 978.3 L1794.4 983.3 L1797.8 988.2 L1801.2 993.1 L1804.6 998.1 L1807.9 1003 L1811.2 1008 L1814.5 1012.9 L1817.8 1017.9 L1821.1 1022.8 L1824.3 1027.8 L1827.5 1032.7 L1830.7 1037.7 L1833.8 1042.6 L1836.9 1047.5 L1840 1052.5 L1843.1 1057.4 L1846.1 1062.4 L1849.2 1067.3 L1852.1 1072.3 L1855.1 1077.2 L1858 1082.2 L1860.9 1087.1 L1863.8 1092 L1866.7 1097 L1869.5 1101.9 L1872.3 1106.9 L1875 1111.8 L1877.8 1116.8 L1880.5 1121.7 L1883.2 1126.7 L1885.8 1131.6 L1888.4 1136.5 L1891 1141.5 L1893.6 1146.4 L1896.1 1151.4 L1898.6 1156.3 L1901.1 1161.3 L1903.5 1166.2 L1905.9 1171.2 L1908.3 1176.1 L1910.7 1181.1 L1912.2 1186" fill="none" stroke="#c8c8c8" stroke-width="2.6" stroke-dasharray="3 6.3"/>
<path d="M738.4 197 L751.8 201.9 L765.3 206.9 L778.7 211.8 L792 216.8 L805.3 221.7 L818.6 226.7 L831.9 231.6 L845.1 236.6 L858.4 241.5 L871.5 246.4 L884.7 251.4 L897.8 256.3 L910.9 261.3 L924 266.2 L937 271.2 L950 276.1 L963 281.1 L975.9 286 L988.8 291 L1001.7 295.9 L1014.5 300.8 L1027.3 305.8 L1040.1 310.7 L1052.9 315.7 L1065.6 320.6 L1077.9 325.6 L1090.2 330.5 L1102.4 335.5 L1114.6 340.4 L1124.8 345.4 L1130.9 350.3 L1137.1 355.2 L1143.2 360.2 L1151.1 365.1 L1159.3 370.1 L1167.5 375 L1175.7 380 L1183.9 384.9 L1192 389.9 L1200.2 394.8 L1208.4 399.7 L1216.5 404.7 L1224.6 409.6 L1232.7 414.6 L1240.7 419.5 L1248.8 424.5 L1256.8 429.4 L1264.7 434.4 L1272.7 439.3 L1280.6 444.2 L1288.4 449.2 L1296 454.1 L1303.5 459.1 L1310.9 464 L1318.3 469 L1325.7 473.9 L1333 478.9 L1340.3 483.8 L1347.5 488.8 L1354.6 493.7 L1361.7 498.6 L1368.8 503.6 L1375.8 508.5 L1382.8 513.5 L1389.6 518.4 L1396.5 523.4 L1403.2 528.3 L1409.9 533.3 L1416.6 538.2 L1423.1 543.1 L1429.6 548.1 L1436.1 553 L1442.4 558 L1448.7 562.9 L1455 567.9 L1461.1 572.8 L1467.2 577.8 L1473.2 582.7 L1479.2 587.7 L1485.1 592.6 L1491 597.5 L1496.7 602.5 L1502.5 607.4 L1508.1 612.4 L1513.7 617.3 L1519.2 622.3 L1524.7 627.2 L1530.1 632.2 L1535.4 637.1 L1540.7 642 L1545.9 647 L1551 651.9 L1556.1 656.9 L1561.1 661.8 L1566 666.8 L1570.9 671.7 L1575.8 676.7 L1580.6 681.6 L1585.3 686.6 L1590 691.5 L1594.6 696.4 L1599.2 701.4 L1603.8 706.3 L1608.3 711.3 L1612.7 716.2 L1617.2 721.2 L1621.6 726.1 L1625.9 731.1 L1630.3 736 L1634.6 741 L1638.8 745.9 L1643 750.8 L1647.2 755.8 L1651.4 760.7 L1655.5 765.7 L1659.7 770.6 L1663.7 775.6 L1667.8 780.5 L1671.8 785.5 L1675.9 790.4 L1679.9 795.3 L1683.8 800.3 L1687.8 805.2 L1691.7 810.2 L1695.7 815.1 L1699.6 820.1 L1703.5 825 L1707.4 830 L1711.3 834.9 L1715.1 839.9 L1719 844.8 L1722.8 849.7 L1726.7 854.7 L1730.5 859.6 L1734.3 864.6 L1738.1 869.5 L1741.9 874.5 L1745.7 879.4 L1749.5 884.4 L1753.2 889.3 L1756.9 894.2 L1760.7 899.2 L1764.4 904.1 L1768 909.1 L1771.7 914 L1775.3 919 L1778.9 923.9 L1782.5 928.9 L1786.1 933.8 L1789.6 938.8 L1793.1 943.7 L1796.6 948.6 L1800.1 953.6 L1803.5 958.5 L1806.9 963.5 L1810.3 968.4 L1813.7 973.4 L1817 978.3 L1820.3 983.3 L1823.5 988.2 L1826.7 993.1 L1829.9 998.1 L1833.1 1003 L1836.2 1008 L1839.2 1012.9 L1842.3 1017.9 L1845.3 1022.8 L1848.2 1027.8 L1851.1 1032.7 L1854 1037.7 L1856.8 1042.6 L1859.6 1047.5 L1862.3 1052.5 L1865 1057.4 L1867.7 1062.4 L1870.3 1067.3 L1872.8 1072.3 L1875.3 1077.2 L1877.8 1082.2 L1880.2 1087.1 L1882.5 1092 L1884.8 1097 L1887.1 1101.9 L1889.3 1106.9 L1891.4 1111.8 L1893.5 1116.8 L1895.5 1121.7 L1897.4 1126.7 L1899.3 1131.6 L1901.2 1136.5 L1903 1141.5 L1904.7 1146.4 L1906.3 1151.4 L1907.9 1156.3 L1909.4 1161.3 L1910.9 1166.2 L1912.3 1171.2 L1913.6 1176.1 L1914.9 1181.1 L1914.6 1186" fill="none" stroke="#c8c8c8" stroke-width="2.6" stroke-dasharray="3 6.3"/>
<path d="M703.5 197 L716.3 201.9 L729.1 206.9 L741.7 211.8 L754.4 216.8 L766.9 221.7 L779.4 226.7 L791.9 231.6 L804.3 236.6 L816.7 241.5 L829 246.4 L841.3 251.4 L853.5 256.3 L865.6 261.3 L877.7 266.2 L889.8 271.2 L901.8 276.1 L913.8 281.1 L925.7 286 L937.6 291 L949.5 295.9 L961.3 300.8 L973 305.8 L984.7 310.7 L996.4 315.7 L1008 320.6 L1019.6 325.6 L1031.1 330.5 L1042.6 335.5 L1054.1 340.4 L1064.5 345.4 L1072.9 350.3 L1081.2 355.2 L1089.6 360.2 L1097.2 365.1 L1104.7 370.1 L1112.2 375 L1119.7 380 L1127.3 384.9 L1134.9 389.9 L1142.4 394.8 L1150.1 399.7 L1157.7 404.7 L1165.3 409.6 L1173 414.6 L1180.6 419.5 L1188.3 424.5 L1195.9 429.4 L1203.6 434.4 L1211.3 439.3 L1218.9 444.2 L1226.5 449.2 L1234.1 454.1 L1241.8 459.1 L1249.3 464 L1256.9 469 L1264.4 473.9 L1272 478.9 L1279.4 483.8 L1286.9 488.8 L1294.3 493.7 L1301.7 498.6 L1309 503.6 L1316.3 508.5 L1323.6 513.5 L1330.8 518.4 L1338 523.4 L1345.1 528.3 L1352.1 533.3 L1359.1 538.2 L1366 543.1 L1372.9 548.1 L1379.7 553 L1386.4 558 L1393.1 562.9 L1399.7 567.9 L1406.2 572.8 L1412.6 577.8 L1419 582.7 L1425.3 587.7 L1431.5 592.6 L1437.7 597.5 L1443.8 602.5 L1449.8 607.4 L1455.8 612.4 L1461.7 617.3 L1467.5 622.3 L1473.3 627.2 L1479.1 632.2 L1484.7 637.1 L1490.3 642 L1495.9 647 L1501.4 651.9 L1506.9 656.9 L1512.3 661.8 L1517.7 666.8 L1523 671.7 L1528.3 676.7 L1533.5 681.6 L1538.6 686.6 L1543.8 691.5 L1548.8 696.4 L1553.9 701.4 L1558.8 706.3 L1563.8 711.3 L1568.7 716.2 L1573.5 721.2 L1578.3 726.1 L1583.1 731.1 L1587.9 736 L1592.5 741 L1597.2 745.9 L1601.8 750.8 L1606.4 755.8 L1610.9 760.7 L1615.5 765.7 L1619.9 770.6 L1624.4 775.6 L1628.8 780.5 L1633.2 785.5 L1637.5 790.4 L1641.8 795.3 L1646.1 800.3 L1650.4 805.2 L1654.6 810.2 L1658.8 815.1 L1663 820.1 L1667.2 825 L1671.3 830 L1675.5 834.9 L1679.6 839.9 L1683.6 844.8 L1687.7 849.7 L1691.7 854.7 L1695.7 859.6 L1699.7 864.6 L1703.7 869.5 L1707.7 874.5 L1711.6 879.4 L1715.5 884.4 L1719.4 889.3 L1723.3 894.2 L1727.1 899.2 L1730.9 904.1 L1734.8 909.1 L1738.5 914 L1742.3 919 L1746 923.9 L1749.8 928.9 L1753.5 933.8 L1757.1 938.8 L1760.8 943.7 L1764.4 948.6 L1768 953.6 L1771.6 958.5 L1775.2 963.5 L1778.8 968.4 L1782.3 973.4 L1785.8 978.3 L1789.3 983.3 L1792.7 988.2 L1796.2 993.1 L1799.6 998.1 L1803 1003 L1806.3 1008 L1809.7 1012.9 L1813 1017.9 L1816.3 1022.8 L1819.6 1027.8 L1822.9 1032.7 L1826.1 1037.7 L1829.3 1042.6 L1832.5 1047.5 L1835.7 1052.5 L1838.8 1057.4 L1841.9 1062.4 L1845 1067.3 L1848.1 1072.3 L1851.2 1077.2 L1854.2 1082.2 L1857.2 1087.1 L1860.2 1092 L1863.1 1097 L1866.1 1101.9 L1869 1106.9 L1871.9 1111.8 L1874.7 1116.8 L1877.6 1121.7 L1880.4 1126.7 L1883.2 1131.6 L1886 1136.5 L1888.7 1141.5 L1891.4 1146.4 L1894.1 1151.4 L1896.8 1156.3 L1899.5 1161.3 L1902.1 1166.2 L1904.7 1171.2 L1907.3 1176.1 L1909.8 1181.1 L1911.7 1186" fill="none" stroke="#858585" stroke-width="2.9" stroke-dasharray="6 20.5"/>
<path d="M734.1 197 L747.6 201.9 L761 206.9 L774.4 211.8 L787.7 216.8 L801 221.7 L814.3 226.7 L827.5 231.6 L840.7 236.6 L853.9 241.5 L867 246.4 L880.1 251.4 L893.2 256.3 L906.2 261.3 L919.2 266.2 L932.2 271.2 L945.1 276.1 L958 281.1 L970.9 286 L983.7 291 L996.5 295.9 L1009.3 300.8 L1022 305.8 L1034.8 310.7 L1047.5 315.7 L1060.1 320.6 L1072.3 325.6 L1084.5 330.5 L1096.7 335.5 L1108.9 340.4 L1119 345.4 L1125.4 350.3 L1131.7 355.2 L1138.1 360.2 L1146 365.1 L1154.1 370.1 L1162.2 375 L1170.4 380 L1178.5 384.9 L1186.6 389.9 L1194.7 394.8 L1202.8 399.7 L1210.9 404.7 L1219 409.6 L1227 414.6 L1235 419.5 L1243 424.5 L1251 429.4 L1259 434.4 L1266.9 439.3 L1274.7 444.2 L1282.6 449.2 L1290.2 454.1 L1297.7 459.1 L1305.1 464 L1312.6 469 L1319.9 473.9 L1327.3 478.9 L1334.6 483.8 L1341.8 488.8 L1349 493.7 L1356.1 498.6 L1363.2 503.6 L1370.3 508.5 L1377.2 513.5 L1384.2 518.4 L1391 523.4 L1397.8 528.3 L1404.6 533.3 L1411.2 538.2 L1417.8 543.1 L1424.4 548.1 L1430.8 553 L1437.2 558 L1443.6 562.9 L1449.8 567.9 L1456 572.8 L1462.2 577.8 L1468.2 582.7 L1474.2 587.7 L1480.2 592.6 L1486 597.5 L1491.9 602.5 L1497.6 607.4 L1503.3 612.4 L1508.9 617.3 L1514.5 622.3 L1519.9 627.2 L1525.4 632.2 L1530.7 637.1 L1536 642 L1541.3 647 L1546.4 651.9 L1551.6 656.9 L1556.6 661.8 L1561.6 666.8 L1566.5 671.7 L1571.4 676.7 L1576.2 681.6 L1581 686.6 L1585.8 691.5 L1590.4 696.4 L1595.1 701.4 L1599.7 706.3 L1604.2 711.3 L1608.7 716.2 L1613.2 721.2 L1617.6 726.1 L1622 731.1 L1626.4 736 L1630.7 741 L1635 745.9 L1639.3 750.8 L1643.5 755.8 L1647.7 760.7 L1651.9 765.7 L1656.1 770.6 L1660.2 775.6 L1664.3 780.5 L1668.3 785.5 L1672.4 790.4 L1676.4 795.3 L1680.4 800.3 L1684.4 805.2 L1688.4 810.2 L1692.4 815.1 L1696.3 820.1 L1700.2 825 L1704.1 830 L1708 834.9 L1711.9 839.9 L1715.8 844.8 L1719.7 849.7 L1723.5 854.7 L1727.4 859.6 L1731.2 864.6 L1735.1 869.5 L1738.9 874.5 L1742.7 879.4 L1746.4 884.4 L1750.2 889.3 L1753.9 894.2 L1757.7 899.2 L1761.4 904.1 L1765.1 909.1 L1768.7 914 L1772.4 919 L1776 923.9 L1779.6 928.9 L1783.2 933.8 L1786.7 938.8 L1790.3 943.7 L1793.8 948.6 L1797.3 953.6 L1800.7 958.5 L1804.1 963.5 L1807.5 968.4 L1810.9 973.4 L1814.2 978.3 L1817.5 983.3 L1820.8 988.2 L1824 993.1 L1827.2 998.1 L1830.4 1003 L1833.5 1008 L1836.6 1012.9 L1839.7 1017.9 L1842.7 1022.8 L1845.7 1027.8 L1848.6 1032.7 L1851.5 1037.7 L1854.4 1042.6 L1857.2 1047.5 L1860 1052.5 L1862.7 1057.4 L1865.4 1062.4 L1868.1 1067.3 L1870.7 1072.3 L1873.2 1077.2 L1875.7 1082.2 L1878.2 1087.1 L1880.6 1092 L1882.9 1097 L1885.2 1101.9 L1887.5 1106.9 L1889.7 1111.8 L1891.8 1116.8 L1893.9 1121.7 L1896 1126.7 L1897.9 1131.6 L1899.9 1136.5 L1901.7 1141.5 L1903.5 1146.4 L1905.3 1151.4 L1907 1156.3 L1908.6 1161.3 L1910.1 1166.2 L1911.6 1171.2 L1913.1 1176.1 L1914.4 1181.1 L1914.4 1186" fill="none" stroke="#858585" stroke-width="2.9" stroke-dasharray="6 20.5"/>
<path d="M680.8 197 L693.5 201.9 L706.2 206.9 L718.9 211.8 L731.4 216.8 L743.9 221.7 L756.4 226.7 L768.8 231.6 L781.1 236.6 L793.4 241.5 L805.6 246.4 L817.8 251.4 L829.9 256.3 L842 261.3 L854 266.2 L865.9 271.2 L877.8 276.1 L889.7 281.1 L901.5 286 L913.3 291 L925 295.9 L936.6 300.8 L948.2 305.8 L959.8 310.7 L971.3 315.7 L982.8 320.6 L994.2 325.6 L1005.6 330.5 L1016.9 335.5 L1028.2 340.4 L1038.9 345.4 L1048.3 350.3 L1057.8 355.2 L1067.3 360.2 L1074.9 365.1 L1082.2 370.1 L1089.5 375 L1096.9 380 L1104.3 384.9 L1111.8 389.9 L1119.3 394.8 L1126.9 399.7 L1134.4 404.7 L1142 409.6 L1149.6 414.6 L1157.2 419.5 L1164.9 424.5 L1172.5 429.4 L1180.2 434.4 L1187.9 439.3 L1195.5 444.2 L1203.2 449.2 L1210.9 454.1 L1218.5 459.1 L1226.2 464 L1233.8 469 L1241.5 473.9 L1249.1 478.9 L1256.6 483.8 L1264.2 488.8 L1271.7 493.7 L1279.2 498.6 L1286.7 503.6 L1294.1 508.5 L1301.5 513.5 L1308.9 518.4 L1316.2 523.4 L1323.4 528.3 L1330.6 533.3 L1337.7 538.2 L1344.8 543.1 L1351.8 548.1 L1358.8 553 L1365.6 558 L1372.4 562.9 L1379.2 567.9 L1385.8 572.8 L1392.4 577.8 L1398.9 582.7 L1405.4 587.7 L1411.7 592.6 L1418 597.5 L1424.2 602.5 L1430.4 607.4 L1436.5 612.4 L1442.5 617.3 L1448.5 622.3 L1454.4 627.2 L1460.3 632.2 L1466.1 637.1 L1471.9 642 L1477.6 647 L1483.2 651.9 L1488.9 656.9 L1494.4 661.8 L1500 666.8 L1505.4 671.7 L1510.9 676.7 L1516.3 681.6 L1521.6 686.6 L1526.9 691.5 L1532.1 696.4 L1537.3 701.4 L1542.5 706.3 L1547.6 711.3 L1552.6 716.2 L1557.7 721.2 L1562.6 726.1 L1567.6 731.1 L1572.4 736 L1577.3 741 L1582.1 745.9 L1586.9 750.8 L1591.6 755.8 L1596.3 760.7 L1600.9 765.7 L1605.6 770.6 L1610.1 775.6 L1614.7 780.5 L1619.2 785.5 L1623.7 790.4 L1628.1 795.3 L1632.5 800.3 L1636.9 805.2 L1641.3 810.2 L1645.6 815.1 L1649.9 820.1 L1654.2 825 L1658.4 830 L1662.6 834.9 L1666.8 839.9 L1671 844.8 L1675.1 849.7 L1679.2 854.7 L1683.3 859.6 L1687.4 864.6 L1691.4 869.5 L1695.4 874.5 L1699.4 879.4 L1703.4 884.4 L1707.4 889.3 L1711.3 894.2 L1715.2 899.2 L1719.1 904.1 L1722.9 909.1 L1726.8 914 L1730.6 919 L1734.4 923.9 L1738.1 928.9 L1741.9 933.8 L1745.6 938.8 L1749.3 943.7 L1753 948.6 L1756.7 953.6 L1760.4 958.5 L1764 963.5 L1767.6 968.4 L1771.2 973.4 L1774.8 978.3 L1778.3 983.3 L1781.9 988.2 L1785.4 993.1 L1788.9 998.1 L1792.4 1003 L1795.9 1008 L1799.3 1012.9 L1802.7 1017.9 L1806.2 1022.8 L1809.6 1027.8 L1812.9 1032.7 L1816.3 1037.7 L1819.7 1042.6 L1823 1047.5 L1826.3 1052.5 L1829.6 1057.4 L1832.9 1062.4 L1836.2 1067.3 L1839.5 1072.3 L1842.7 1077.2 L1846 1082.2 L1849.2 1087.1 L1852.4 1092 L1855.6 1097 L1858.8 1101.9 L1861.9 1106.9 L1865.1 1111.8 L1868.2 1116.8 L1871.4 1121.7 L1874.5 1126.7 L1877.6 1131.6 L1880.7 1136.5 L1883.8 1141.5 L1886.9 1146.4 L1889.9 1151.4 L1893 1156.3 L1896 1161.3 L1899.1 1166.2 L1902.1 1171.2 L1905.1 1176.1 L1908.1 1181.1 L1910.7 1186" fill="none" stroke="#333" stroke-width="3.7" stroke-dasharray="22 23"/>
<path d="M727 197 L740.2 201.9 L753.4 206.9 L766.6 211.8 L779.7 216.8 L792.8 221.7 L805.8 226.7 L818.8 231.6 L831.6 236.6 L844.4 241.5 L857.2 246.4 L869.9 251.4 L882.6 256.3 L895.3 261.3 L907.9 266.2 L920.5 271.2 L933 276.1 L945.5 281.1 L958 286 L970.4 291 L982.8 295.9 L995.2 300.8 L1007.5 305.8 L1019.8 310.7 L1032.1 315.7 L1044.3 320.6 L1056.4 325.6 L1068.5 330.5 L1080.5 335.5 L1092.6 340.4 L1102.9 345.4 L1109.9 350.3 L1116.9 355.2 L1123.9 360.2 L1131.8 365.1 L1139.8 370.1 L1147.8 375 L1155.8 380 L1163.8 384.9 L1171.8 389.9 L1179.9 394.8 L1187.9 399.7 L1195.9 404.7 L1203.9 409.6 L1211.9 414.6 L1219.9 419.5 L1227.8 424.5 L1235.8 429.4 L1243.7 434.4 L1251.6 439.3 L1259.4 444.2 L1267.3 449.2 L1274.9 454.1 L1282.4 459.1 L1289.9 464 L1297.4 469 L1304.8 473.9 L1312.2 478.9 L1319.5 483.8 L1326.8 488.8 L1334 493.7 L1341.2 498.6 L1348.4 503.6 L1355.5 508.5 L1362.6 513.5 L1369.6 518.4 L1376.5 523.4 L1383.4 528.3 L1390.2 533.3 L1396.9 538.2 L1403.6 543.1 L1410.3 548.1 L1416.8 553 L1423.3 558 L1429.7 562.9 L1436.1 567.9 L1442.4 572.8 L1448.6 577.8 L1454.7 582.7 L1460.8 587.7 L1466.8 592.6 L1472.8 597.5 L1478.6 602.5 L1484.5 607.4 L1490.2 612.4 L1495.9 617.3 L1501.5 622.3 L1507.1 627.2 L1512.6 632.2 L1518.1 637.1 L1523.5 642 L1528.8 647 L1534 651.9 L1539.2 656.9 L1544.4 661.8 L1549.5 666.8 L1554.5 671.7 L1559.5 676.7 L1564.4 681.6 L1569.3 686.6 L1574.2 691.5 L1578.9 696.4 L1583.7 701.4 L1588.4 706.3 L1593 711.3 L1597.7 716.2 L1602.2 721.2 L1606.8 726.1 L1611.3 731.1 L1615.7 736 L1620.2 741 L1624.6 745.9 L1628.9 750.8 L1633.3 755.8 L1637.5 760.7 L1641.8 765.7 L1646 770.6 L1650.3 775.6 L1654.4 780.5 L1658.6 785.5 L1662.7 790.4 L1666.8 795.3 L1670.9 800.3 L1675 805.2 L1679 810.2 L1683 815.1 L1687.1 820.1 L1691 825 L1695 830 L1699 834.9 L1702.9 839.9 L1706.9 844.8 L1710.8 849.7 L1714.7 854.7 L1718.6 859.6 L1722.5 864.6 L1726.3 869.5 L1730.2 874.5 L1734 879.4 L1737.8 884.4 L1741.6 889.3 L1745.4 894.2 L1749.2 899.2 L1752.9 904.1 L1756.6 909.1 L1760.3 914 L1764 919 L1767.6 923.9 L1771.3 928.9 L1774.9 933.8 L1778.5 938.8 L1782 943.7 L1785.6 948.6 L1789.1 953.6 L1792.6 958.5 L1796 963.5 L1799.5 968.4 L1802.9 973.4 L1806.3 978.3 L1809.6 983.3 L1812.9 988.2 L1816.2 993.1 L1819.5 998.1 L1822.7 1003 L1825.9 1008 L1829.1 1012.9 L1832.2 1017.9 L1835.3 1022.8 L1838.4 1027.8 L1841.4 1032.7 L1844.4 1037.7 L1847.4 1042.6 L1850.3 1047.5 L1853.2 1052.5 L1856 1057.4 L1858.8 1062.4 L1861.6 1067.3 L1864.3 1072.3 L1867 1077.2 L1869.7 1082.2 L1872.3 1087.1 L1874.8 1092 L1877.4 1097 L1879.8 1101.9 L1882.3 1106.9 L1884.7 1111.8 L1887 1116.8 L1889.3 1121.7 L1891.6 1126.7 L1893.8 1131.6 L1896 1136.5 L1898.1 1141.5 L1900.1 1146.4 L1902.1 1151.4 L1904.1 1156.3 L1906 1161.3 L1907.9 1166.2 L1909.7 1171.2 L1911.4 1176.1 L1913.1 1181.1 L1913.6 1186" fill="none" stroke="#333" stroke-width="3.7" stroke-dasharray="22 23"/>
<path d="M637.3 192 L647.6 196 L657.9 200 L668.2 204 L678.5 208 L688.8 212.1 L699.1 216.2 L709.4 220.3 L719.7 224.4 L730 228.5 L740.3 232.6 L750.6 236.8 L760.9 241 L771.2 245.2 L781.5 249.4 L791.8 253.7 L802.1 257.9 L812.4 262.2 L822.7 266.5 L833 270.8 L843.3 275.1 L853.6 279.5 L863.9 283.9 L874.2 288.3 L884.5 292.7 L894.8 297.1 L905.1 301.5 L915.4 306 L925.7 310.5 L936 315 L946.3 319.5 L956.6 324 L966.9 328.6 L977.2 333.2 L987.5 337.8 L997.8 342.4 L1008.1 347 L1018.4 351.6 L1028.7 356.3 L1039 361 L1046.4 366.2 L1053.8 371.4 L1061.3 376.6 L1068.9 381.8 L1076.6 387 L1084.3 392.2 L1092.1 397.4 L1099.9 402.5 L1107.8 407.7 L1115.7 412.9 L1123.6 418.1 L1131.6 423.3 L1139.7 428.5 L1147.7 433.7 L1155.8 438.9 L1163.9 444.1 L1172 449.3 L1180.2 454.5 L1188.3 459.7 L1196.4 464.9 L1204.5 470.1 L1212.7 475.3 L1220.8 480.5 L1228.9 485.6 L1237 490.8 L1245 496 L1253 501.2 L1261 506.4 L1269 511.6 L1276.9 516.8 L1284.8 522 L1292.6 527.2 L1300.4 532.4 L1308.1 537.6 L1315.7 542.8 L1323.3 548 L1330.8 553.2 L1338.2 558.4 L1345.6 563.6 L1352.9 568.7 L1360 573.9 L1367.1 579.1 L1374.1 584.3 L1381 589.5 L1387.9 594.7 L1394.6 599.9 L1401.3 605.1 L1407.9 610.3 L1414.5 615.5 L1421 620.7 L1427.4 625.9 L1433.8 631.1 L1440.1 636.3 L1446.3 641.5 L1452.5 646.7 L1458.7 651.8 L1464.8 657 L1470.9 662.2 L1476.9 667.4 L1482.9 672.6 L1488.8 677.8 L1494.7 683 L1500.5 688.2 L1506.3 693.4 L1512 698.6 L1517.7 703.8 L1523.3 709 L1528.9 714.2 L1534.4 719.4 L1539.9 724.6 L1545.3 729.8 L1550.7 734.9 L1556 740.1 L1561.3 745.3 L1566.5 750.5 L1571.7 755.7 L1576.8 760.9 L1581.9 766.1 L1586.9 771.3 L1591.9 776.5 L1596.9 781.7 L1601.8 786.9 L1606.7 792.1 L1611.5 797.3 L1616.3 802.5 L1621 807.7 L1625.8 812.9 L1630.4 818 L1635.1 823.2 L1639.7 828.4 L1644.2 833.6 L1648.8 838.8 L1653.3 844 L1657.7 849.2 L1662.2 854.4 L1666.6 859.6 L1670.9 864.8 L1675.3 870 L1679.6 875.2 L1683.9 880.4 L1688.1 885.6 L1692.3 890.8 L1696.5 896 L1700.7 901.1 L1704.9 906.3 L1709 911.5 L1713.1 916.7 L1717.1 921.9 L1721.2 927.1 L1725.2 932.3 L1729.2 937.5 L1733.2 942.7 L1737.2 947.9 L1741.1 953.1 L1745 958.3 L1748.9 963.5 L1752.8 968.7 L1756.7 973.9 L1760.5 979.1 L1764.4 984.2 L1768.2 989.4 L1772 994.6 L1775.8 999.8 L1779.6 1005 L1783.4 1010.2 L1787.2 1015.4 L1790.9 1020.6 L1794.7 1025.8 L1798.4 1031 L1802.1 1036.2 L1805.9 1041.4 L1809.6 1046.6 L1813.3 1051.8 L1817 1057 L1820.7 1062.2 L1824.4 1067.3 L1828.1 1072.5 L1831.8 1077.7 L1835.5 1082.9 L1839.1 1088.1 L1842.8 1093.3 L1846.5 1098.5 L1850.2 1103.7 L1853.9 1108.9 L1857.6 1114.1 L1861.3 1119.3 L1865 1124.5 L1868.7 1129.7 L1872.4 1134.9 L1876.1 1140.1 L1879.9 1145.3 L1883.6 1150.4 L1887.3 1155.6 L1891.1 1160.8 L1894.8 1166 L1898.6 1171.2 L1902.4 1176.4 L1906.2 1181.6 L1910 1186.8" fill="none" stroke="#000" stroke-width="3.8"/>
<path d="M661 193.2 L674 191.2 L690 190.6 L705 192.3 L720 196.5 L729.3 200.1 L738.6 203.7 L747.8 207.3 L757.1 210.9 L766.4 214.5 L775.7 218.1 L785 221.8 L794.3 225.4 L803.5 229.1 L812.8 232.7 L822.1 236.4 L831.4 240.1 L840.7 243.8 L849.9 247.5 L859.2 251.3 L868.5 255 L877.8 258.7 L887.1 262.5 L896.4 266.2 L905.6 270 L914.9 273.8 L924.2 277.6 L933.5 281.4 L942.8 285.2 L952.1 289 L961.3 292.9 L970.6 296.7 L979.9 300.6 L989.2 304.5 L998.5 308.3 L1007.7 312.2 L1017 316.1 L1026.3 320 L1035.6 323.9 L1044.9 327.9 L1054.2 331.8 L1063.4 335.8 L1072.7 339.7 L1082 343.7 L1090 349 L1098.1 354.3 L1106.1 359.6 L1114.2 364.8 L1122.4 370.1 L1130.5 375.4 L1138.7 380.7 L1146.8 386 L1155 391.3 L1163.2 396.5 L1171.4 401.8 L1179.6 407.1 L1187.9 412.4 L1196.1 417.7 L1204.3 423 L1212.4 428.3 L1220.6 433.5 L1228.8 438.8 L1236.9 444.1 L1245.1 449.4 L1253.2 454.7 L1261.2 460 L1269.3 465.3 L1277.3 470.5 L1285.3 475.8 L1293.2 481.1 L1301.1 486.4 L1309 491.7 L1316.8 497 L1324.5 502.2 L1332.3 507.5 L1339.9 512.8 L1347.5 518.1 L1355 523.4 L1362.5 528.7 L1369.9 534 L1377.3 539.2 L1384.5 544.5 L1391.7 549.8 L1398.8 555.1 L1405.9 560.4 L1412.8 565.7 L1419.7 571 L1426.5 576.2 L1433.2 581.5 L1439.8 586.8 L1446.4 592.1 L1452.9 597.4 L1459.3 602.7 L1465.6 607.9 L1471.9 613.2 L1478.1 618.5 L1484.2 623.8 L1490.2 629.1 L1496.2 634.4 L1502.1 639.7 L1508 644.9 L1513.8 650.2 L1519.5 655.5 L1525.2 660.8 L1530.8 666.1 L1536.3 671.4 L1541.8 676.6 L1547.3 681.9 L1552.6 687.2 L1558 692.5 L1563.2 697.8 L1568.4 703.1 L1573.6 708.4 L1578.7 713.6 L1583.8 718.9 L1588.8 724.2 L1593.8 729.5 L1598.8 734.8 L1603.6 740.1 L1608.5 745.4 L1613.3 750.6 L1618.1 755.9 L1622.8 761.2 L1627.5 766.5 L1632.2 771.8 L1636.8 777.1 L1641.4 782.3 L1645.9 787.6 L1650.5 792.9 L1655 798.2 L1659.4 803.5 L1663.9 808.8 L1668.3 814.1 L1672.7 819.3 L1677.1 824.6 L1681.4 829.9 L1685.7 835.2 L1690 840.5 L1694.3 845.8 L1698.6 851.1 L1702.8 856.3 L1707.1 861.6 L1711.3 866.9 L1715.4 872.2 L1719.6 877.5 L1723.7 882.8 L1727.8 888 L1731.9 893.3 L1736 898.6 L1740.1 903.9 L1744.1 909.2 L1748.1 914.5 L1752.1 919.8 L1756 925 L1759.9 930.3 L1763.8 935.6 L1767.7 940.9 L1771.6 946.2 L1775.4 951.5 L1779.2 956.7 L1782.9 962 L1786.7 967.3 L1790.4 972.6 L1794.1 977.9 L1797.7 983.2 L1801.4 988.5 L1805 993.7 L1808.5 999 L1812.1 1004.3 L1815.6 1009.6 L1819.1 1014.9 L1822.5 1020.2 L1826 1025.5 L1829.3 1030.7 L1832.7 1036 L1836 1041.3 L1839.3 1046.6 L1842.6 1051.9 L1845.8 1057.2 L1849 1062.4 L1852.2 1067.7 L1855.3 1073 L1858.4 1078.3 L1861.4 1083.6 L1864.5 1088.9 L1867.4 1094.2 L1870.4 1099.4 L1873.3 1104.7 L1876.2 1110 L1879 1115.3 L1881.8 1120.6 L1884.6 1125.9 L1887.3 1131.2 L1890 1136.4 L1892.7 1141.7 L1895.3 1147 L1897.9 1152.3 L1900.4 1157.6 L1902.9 1162.9 L1905.4 1168.1 L1907.8 1173.4 L1910.2 1178.7 L1912.5 1184" fill="none" stroke="#000" stroke-width="3.8"/>
</g>
<path d="M448.3 65.3V1376.8 M2070.6 65.3V1376.8 M446.0 67.6H2072.9 M446.0 1374.5H2072.9 M448.5 1349.0V1400.0 M564.4 1362.0V1387.0 M680.2 1349.0V1400.0 M796 1362.0V1387.0 M911.9 1349.0V1400.0 M1027.8 1362.0V1387.0 M1143.6 1349.0V1400.0 M1259.4 1362.0V1387.0 M1375.3 1349.0V1400.0 M1491.1 1362.0V1387.0 M1607 1349.0V1400.0 M1722.8 1362.0V1387.0 M1838.7 1349.0V1400.0 M1954.5 1362.0V1387.0 M2070.4 1349.0V1400.0 M448.3 1373.5h-26 M448.3 1273.2h-12.5 M448.3 1172.8h-26 M448.3 1072.5h-12.5 M448.3 972.1h-26 M448.3 871.8h-12.5 M448.3 771.4h-26 M448.3 671h-12.5 M448.3 570.7h-26 M448.3 470.4h-12.5 M448.3 370h-26 M448.3 269.6h-12.5 M448.3 169.3h-26 M448.3 68.9h-12.5 M2070.6 67.5h26 M2070.6 177.4h12.5 M2070.6 287.3h26 M2070.6 397.2h12.5 M2070.6 507.1h26 M2070.6 617h12.5 M2070.6 726.9h26 M2070.6 836.8h12.5 M2070.6 946.7h26 M2070.6 1056.6h12.5 M2070.6 1166.5h26 M2070.6 1276.4h12.5" stroke="#000" stroke-width="4.6" fill="none"/>
<g font-family="'Liberation Sans', Arial, Helvetica, sans-serif" font-weight="700" font-size="55px" fill="#000">
<text transform="translate(448.5 1461.7) scale(1 1.07)" text-anchor="middle">4</text>
<text transform="translate(680.2 1461.7) scale(1 1.07)" text-anchor="middle">6</text>
<text transform="translate(911.9 1461.7) scale(1 1.07)" text-anchor="middle">8</text>
<text transform="translate(1143.6 1461.7) scale(1 1.07)" text-anchor="middle">10</text>
<text transform="translate(1375.3 1461.7) scale(1 1.07)" text-anchor="middle">12</text>
<text transform="translate(1607 1461.7) scale(1 1.07)" text-anchor="middle">14</text>
<text transform="translate(1838.7 1461.7) scale(1 1.07)" text-anchor="middle">16</text>
<text transform="translate(2070.4 1461.7) scale(1 1.07)" text-anchor="middle">18</text>
<text transform="translate(404 1389.8) scale(1 1.07)" text-anchor="end">-100</text>
<text transform="translate(404 1189.1) scale(1 1.07)" text-anchor="end">-80</text>
<text transform="translate(404 988.4) scale(1 1.07)" text-anchor="end">-60</text>
<text transform="translate(404 787.7) scale(1 1.07)" text-anchor="end">-40</text>
<text transform="translate(404 587) scale(1 1.07)" text-anchor="end">-20</text>
<text transform="translate(404 386.3) scale(1 1.07)" text-anchor="end">0</text>
<text transform="translate(404 185.6) scale(1 1.07)" text-anchor="end">20</text>
<text transform="translate(2112.5 84.3) scale(1.02 1.07)">0</text>
<text transform="translate(2112.5 304.1) scale(1.02 1.07)">20</text>
<text transform="translate(2112.5 523.9) scale(1.02 1.07)">40</text>
<text transform="translate(2112.5 743.7) scale(1.02 1.07)">60</text>
<text transform="translate(2112.5 963.5) scale(1.02 1.07)">80</text>
<text transform="translate(2112.5 1183.3) scale(1.02 1.07)">100</text>
</g>
<g font-family="'Liberation Sans', Arial, Helvetica, sans-serif" font-weight="700" font-size="68.4px" fill="#000">
<text transform="translate(1260 1574.3) scale(1 1.03)" text-anchor="middle">Strain (%)</text>
<text transform="translate(250 721.5) rotate(-90)" text-anchor="middle">ΔR/R0 (%)</text>
<text transform="translate(2283.5 721) rotate(-90)" text-anchor="middle">Stress (KPa)</text>
</g>
<g font-family="'Liberation Sans', Arial, Helvetica, sans-serif" font-weight="700" font-size="62px" fill="#000">
<path d="M1018.4 143.6h21.6L1029.2 164.4z" fill="#000"/>
<text x="1117" y="168.2">1st</text>
<path d="M1276.8 156.5h21.2L1287.4 137.1z" fill="#484848"/>
<text x="1373" y="168.2">2nd</text>
<rect x="1557" y="139.8" width="15.4" height="15.4" fill="#858585"/>
<text x="1652" y="168.2">3rd</text>
<circle cx="1828.6" cy="148.3" r="8.1" fill="#c4c4c4"/>
<text x="1915.5" y="168.2">4th</text>
<path d="M958 225H1102.5" stroke="#000" stroke-width="4.4"/>
<text x="1117" y="246.3">1st</text>
<path d="M1216 225H1362" stroke="#3c3c3c" stroke-width="4.2" stroke-dasharray="22 23"/>
<text x="1373" y="246.3">2nd</text>
<path d="M1494 225.5H1638" stroke="#858585" stroke-width="2.8" stroke-dasharray="6 20.7"/>
<text x="1652" y="246.3">3rd</text>
<path d="M1757 225.5H1902" stroke="#c8c8c8" stroke-width="2.6" stroke-dasharray="3 6.3"/>
<text x="1915.5" y="246.3">4th</text>
</g>
<g font-family="'Liberation Sans', Arial, Helvetica, sans-serif" font-weight="700" font-size="49px" fill="#000">
<text transform="translate(1578 486.5) scale(1 1.05)">Stress</text>
<text transform="translate(570.5 994) scale(1 1.05)">ΔR/R0 (%)</text>
</g>
<path d="M1561.5 475L1468 481.8" stroke="#222" stroke-width="4" fill="none"/>
<path d="M1445.2 483L1469.5 464.5L1471.5 501.5z" fill="#000"/>
<path d="M820 983.2L916 981.3" stroke="#222" stroke-width="3.4" fill="none"/>
<path d="M940.5 980.8L914.5 967.5L915.2 994.5z" fill="#000"/>
</g>
<g font-family="'Liberation Serif', 'DejaVu Serif', serif" font-size="92px" fill="#000">
<text transform="translate(1163.5 1716.5) scale(0.833 0.951)">(</text>
<text transform="translate(1190.4 1715.5) scale(0.876 0.956)" font-weight="700">a</text>
<text transform="translate(1231.6 1716.5) scale(0.833 0.951)">)</text>
<text transform="translate(1158.3 3161.8) scale(0.833 0.951)">(</text>
<text transform="translate(1184.4 3161.8) scale(0.987 0.972)" font-weight="700">b</text>
<text transform="translate(1237 3161.8) scale(0.833 0.951)">)</text>
</g>
<g id="diagram">
<text x="826" y="1822" font-family="'Liberation Sans', Arial, Helvetica, sans-serif" font-weight="700" font-size="61px" textLength="618" lengthAdjust="spacingAndGlyphs">Compressive pressure</text>
<path d="M297 1854L302 1992.5" stroke="#000" stroke-width="7.2" fill="none"/><path d="M302.8 2015.5L290.2 1990.9L313.6 1990.1z" fill="#000"/>
<path d="M430.4 1854L435.4 1992.5" stroke="#000" stroke-width="7.2" fill="none"/><path d="M436.2 2015.5L423.6 1990.9L447 1990.1z" fill="#000"/>
<path d="M533.9 1854L538.9 1992.5" stroke="#000" stroke-width="7.2" fill="none"/><path d="M539.7 2015.5L527.1 1990.9L550.5 1990.1z" fill="#000"/>
<path d="M636.3 1854L641.3 1992.5" stroke="#000" stroke-width="7.2" fill="none"/><path d="M642.1 2015.5L629.5 1990.9L652.9 1990.1z" fill="#000"/>
<path d="M738.7 1854L743.7 1992.5" stroke="#000" stroke-width="7.2" fill="none"/><path d="M744.5 2015.5L731.9 1990.9L755.3 1990.1z" fill="#000"/>
<path d="M860.7 1854L865.7 1992.5" stroke="#000" stroke-width="7.2" fill="none"/><path d="M866.5 2015.5L853.9 1990.9L877.3 1990.1z" fill="#000"/>
<path d="M979.7 1854L984.7 1992.5" stroke="#000" stroke-width="7.2" fill="none"/><path d="M985.5 2015.5L972.9 1990.9L996.3 1990.1z" fill="#000"/>
<path d="M1092.6 1854L1097.6 1992.5" stroke="#000" stroke-width="7.2" fill="none"/><path d="M1098.4 2015.5L1085.8 1990.9L1109.2 1990.1z" fill="#000"/>
<path d="M1218.8 1854L1223.8 1992.5" stroke="#000" stroke-width="7.2" fill="none"/><path d="M1224.6 2015.5L1212 1990.9L1235.4 1990.1z" fill="#000"/>
<path d="M1325.9 1854L1330.9 1992.5" stroke="#000" stroke-width="7.2" fill="none"/><path d="M1331.7 2015.5L1319.1 1990.9L1342.5 1990.1z" fill="#000"/>
<path d="M1445.2 1854L1450.2 1992.5" stroke="#000" stroke-width="7.2" fill="none"/><path d="M1451 2015.5L1438.4 1990.9L1461.8 1990.1z" fill="#000"/>
<path d="M1552 1854L1557 1992.5" stroke="#000" stroke-width="7.2" fill="none"/><path d="M1557.8 2015.5L1545.2 1990.9L1568.6 1990.1z" fill="#000"/>
<path d="M1664.5 1854L1669.5 1992.5" stroke="#000" stroke-width="7.2" fill="none"/><path d="M1670.3 2015.5L1657.7 1990.9L1681.1 1990.1z" fill="#000"/>
<path d="M1784.5 1854L1789.5 1992.5" stroke="#000" stroke-width="7.2" fill="none"/><path d="M1790.3 2015.5L1777.7 1990.9L1801.1 1990.1z" fill="#000"/>
<path d="M1897 1854L1902 1992.5" stroke="#000" stroke-width="7.2" fill="none"/><path d="M1902.8 2015.5L1890.2 1990.9L1913.6 1990.1z" fill="#000"/>
<rect x="274" y="2103" width="1647.6" height="629" fill="#e6e6e6" stroke="#a8a8a8" stroke-width="2.5"/>
<rect x="274" y="2062.5" width="1651" height="41.5" fill="#000"/>
<rect x="271.5" y="2731" width="1650.5" height="40.5" fill="#000"/>
<g stroke="#5c5c5c" stroke-width="9.4" fill="none">
<path d="M472.4 2122.1L361.2 2281.3M350.7 2279.8L514.4 2297.8M388.2 2293.3L518.9 2354.9M485.9 2105.5L616.6 2168.6M493.4 2138.6L595.6 2201.7M463.3 2144.6L598.6 2147.6M535.5 2135.6L640.6 2116.1M454.3 2171.6L586.5 2236.2M576 2179.2L706.7 2239.3M691.7 2236.2L556.5 2323.4M469.4 2215.2L598.6 2272.3M406.3 2246.8L538.5 2224.2M609.1 2260.3L473.9 2321.9M576 2288.8L708.2 2272.3M543 2291.8L676.7 2356.4M950.9 2288.8L1017 2356.4M1011 2279.8L1167.2 2326.4M1066.6 2275.3L1027.5 2392.5M1075.6 2266.3L1192.8 2374.5M946.4 2359.4L1054.6 2449.1M964.4 2370L1123.7 2382M1045.6 2355L1198 2352M1105.7 2359.4L1235.6 2422M1027.5 2402.5L1159.7 2462.6M996 2429.6L1125.2 2489.7M1200 2407L1069.6 2459.6M1455 2102.5L1429.4 2212.2M1424.9 2189.7L1443 2296.3M1450.5 2104L1528.6 2206.2M1450.5 2176.2L1582.7 2239.3M1450.5 2220.6L1594.7 2225.7M1557.2 2189.7L1687.1 2252.8M1638 2182.2L1638 2290.3M1522.6 2242.3L1652.6 2303.9M1402.4 2311.4L1591.7 2260.3M1479 2260.3L1609.7 2324.9M1453.5 2278.3L1570.7 2398.5M1516.6 2306.9L1645.8 2368.5M1618.8 2278.3L1525.6 2353.4M1507.6 2386.5L1657.1 2332.4M1600 2350.4L1645.1 2370M535.5 2480.7L666.2 2542.3M568.5 2489.7L676.7 2489.7M485.9 2551.3L643.6 2519.7M604.6 2543.8L742.8 2611.4M490.4 2552.8L640.6 2561.8M526.4 2561.8L406.3 2662.5M565.5 2557.3L631.6 2641.4M454.3 2582.8L586.5 2644.4M400.2 2632.4L568.5 2689.5M567 2653.4L706.7 2596.3M691.7 2617.4L583.5 2685M565.5 2676L709.7 2647.4M690.2 2506.2L739 2617.4M772.1 2585.8L675.2 2682M534 2703L688.7 2728.5M535.5 2686.5L610.6 2728.5M835.2 2570.8L826.2 2725.5M862.3 2570.8L994.5 2632.4M838.2 2638.4L949.4 2612.9M779.6 2650.4L985.5 2733M841.2 2626.4L970.4 2685M880.3 2650.4L1000.5 2734.6M953.9 2638.4L1006.5 2734.6M848.7 2707.5L988.5 2730M1426.4 2521.2L1412.9 2635.4M1399.4 2540.8L1525.6 2576.8M1450.5 2548.3L1564.7 2486.7M1561.7 2485.2L1693.1 2548M1527.1 2537.8L1693.1 2557.3M1528.6 2543.8L1657.1 2605.4M1488 2584.3L1618.8 2596.3M1426.4 2554.3L1519.6 2644.4M1431 2605.4L1564.7 2667M1537.6 2603.9L1669.1 2664M1522.6 2641.4L1664.6 2631M1366.3 2701.5L1492.5 2636.9M1396.4 2664L1522.6 2725.5M1519.6 2725.5L1650 2650.4"/>
<path d="M1465.5 2110L1600.7 2173.1L1687.1 2195.7"/>
</g>
<path stroke="#000" stroke-width="10.4" fill="none" d="M855.3 2150L1023 2157.2M730 2288.8L859.3 2210.7M883.3 2278.3L985.5 2200.2M790.1 2281.3L919.4 2344.4M1159 2182.2L1291.2 2245.3M482.9 2474.7L598.6 2386M758.6 2480.7L853 2382M633.1 2368.5L764.6 2431M1280.7 2337L1414.4 2400M1446 2353.4L1564.7 2455.1M722.5 2489.7L854.7 2551.3M943.4 2522.7L1072.6 2585.8M1105.6 2670L1229.6 2605.4M1232.6 2450.6L1309.3 2560.3M1297.2 2441.6L1427.9 2504.7M1213.1 2641.4L1294.2 2703M1609.5 2464.1L1714.2 2385.5"/>
<rect x="169.6" y="2100.3" width="55.8" height="652.3" rx="2" fill="#fff" stroke="#adadad" stroke-width="1.7"/>
<path d="M203.3 2120.5V2168" stroke="#777" stroke-width="6" fill="none"/>
<path d="M203.3 2166.5 L182.6 2174.8 L215.1 2190.4 L182.6 2204.7 L215.1 2218.9 L182.6 2233.1 L217.8 2248.1 L183.2 2262.3 L219.2 2275.9 L197.5 2281.3" fill="none" stroke="#000" stroke-width="7.4" stroke-linejoin="round" stroke-linecap="butt"/>
<path d="M197.5 2280V2363" stroke="#000" stroke-width="3.3" fill="none"/>
<path d="M197.5 2361.7 L176.5 2371.2 L209.7 2386.1 L176.5 2400.4 L209.7 2414.6 L176.5 2428.9 L211.7 2443.8 L177.8 2458 L211.7 2472.3 L190 2478.4" fill="none" stroke="#000" stroke-width="7.4" stroke-linejoin="round" stroke-linecap="butt"/>
<path d="M190 2477V2561" stroke="#000" stroke-width="3.3" fill="none"/>
<path d="M190.1 2560 L171.7 2567.7 L206.9 2582.3 L171.7 2596.4 L206.9 2611 L171.7 2625.7 L209.1 2639.8 L172.8 2654.4 L209.1 2668.5 L186.3 2675.6" fill="none" stroke="#000" stroke-width="7.4" stroke-linejoin="round" stroke-linecap="butt"/>
<path d="M186.3 2674V2722.3" stroke="#000" stroke-width="3.6" fill="none"/>
<g font-family="'Liberation Sans', Arial, Helvetica, sans-serif" font-weight="700" fill="#000">
<text x="57.5" y="2274.5" font-size="62px" textLength="38" lengthAdjust="spacingAndGlyphs">R</text><text x="97.0" y="2289.5" font-size="40px" textLength="17.5" lengthAdjust="spacingAndGlyphs">c</text>
<text x="35.5" y="2447" font-size="62px" textLength="38" lengthAdjust="spacingAndGlyphs">R</text><text x="75.0" y="2461.8" font-size="40px" textLength="79.5" lengthAdjust="spacingAndGlyphs">bulk</text>
<text x="50.5" y="2637.5" font-size="62px" textLength="38" lengthAdjust="spacingAndGlyphs">R</text><text x="90.0" y="2653.5" font-size="40px" textLength="17.5" lengthAdjust="spacingAndGlyphs">c</text>
</g>
<path d="M471 2107L252.7 2197.4" stroke="#8a3f10" stroke-width="5.6" fill="none"/><path d="M231.5 2206.2L250.8 2187.4L258.4 2205.9z" fill="#8a3f10"/>
<path d="M577 2364L248.3 2412.2" stroke="#8a3f10" stroke-width="5.6" fill="none"/><path d="M225.5 2415.5L248.8 2402L251.7 2421.8z" fill="#8a3f10"/>
<path d="M543 2507.7L242.1 2448.2" stroke="#8a3f10" stroke-width="5.6" fill="none"/><path d="M219.5 2443.7L246 2438.7L242.1 2458.4z" fill="#8a3f10"/>
<path d="M570 2731.6L244.3 2650" stroke="#8a3f10" stroke-width="5.6" fill="none"/><path d="M222 2644.4L248.7 2640.8L243.8 2660.2z" fill="#8a3f10"/>
<path d="M773.6 2786.5L796.3 2726.5" stroke="#8a3f10" stroke-width="5.6" fill="none"/><path d="M804.5 2705L805 2731.9L786.3 2724.8z" fill="#8a3f10"/>
<path d="M1165.6 2786.5L1163.1 2670.4" stroke="#8a3f10" stroke-width="5.6" fill="none"/><path d="M1162.6 2647.4L1173.1 2672.2L1153.1 2672.6z" fill="#8a3f10"/>
<path d="M1726.5 2788.3L1687.2 2689.9" stroke="#8a3f10" stroke-width="5.6" fill="none"/><path d="M1678.7 2668.5L1697.3 2688L1678.7 2695.4z" fill="#8a3f10"/>
<path d="M2005 2691L1868.7 2578" stroke="#8a3f10" stroke-width="5.6" fill="none"/><path d="M1851 2563.3L1876.6 2571.6L1863.9 2587z" fill="#8a3f10"/>
<path d="M1925 2082L2041.6 2352.9" stroke="#87451c" stroke-width="1.7" fill="none" stroke-dasharray="3.4 4.2"/><path d="M2046 2363L2034.9 2353.6L2046.8 2348.5z" fill="#87451c"/>
<path d="M1922 2750L2037.7 2476.1" stroke="#87451c" stroke-width="1.7" fill="none" stroke-dasharray="3.4 4.2"/><path d="M2042 2466L2042.9 2480.5L2031 2475.4z" fill="#87451c"/>
<g font-family="'Liberation Sans', Arial, Helvetica, sans-serif" font-weight="700" font-size="62px" fill="#000">
<text x="1976.5" y="2464.2" textLength="294.5" lengthAdjust="spacingAndGlyphs">Electrodes</text>
<text x="1962.5" y="2762.5" textLength="107.5" lengthAdjust="spacingAndGlyphs">PLA</text>
<text x="2084.5" y="2762.5" textLength="79.5" lengthAdjust="spacingAndGlyphs">3D</text>
<text x="2181.5" y="2762.5" textLength="202.5" lengthAdjust="spacingAndGlyphs">printed</text>
<text x="1977.5" y="2843.4" textLength="185.5" lengthAdjust="spacingAndGlyphs">matrix</text>
<text x="636.5" y="2861" textLength="202.5" lengthAdjust="spacingAndGlyphs">MWNT</text>
<text x="637.5" y="2944.2" textLength="188.5" lengthAdjust="spacingAndGlyphs">cluster</text>
<text x="976.5" y="2853.8" textLength="284.5" lengthAdjust="spacingAndGlyphs">Individual</text>
<text x="977.0" y="2935.6" textLength="203.5" lengthAdjust="spacingAndGlyphs">MWNT</text>
<text x="1517.5" y="2854.8" textLength="290.5" lengthAdjust="spacingAndGlyphs">Formation</text>
<text x="1827.0" y="2854.8" textLength="61.5" lengthAdjust="spacingAndGlyphs">of</text>
<text x="1517.5" y="2935.6" textLength="312.5" lengthAdjust="spacingAndGlyphs">conductive</text>
<text x="1517.5" y="3017.6" textLength="248.5" lengthAdjust="spacingAndGlyphs">pathway</text>
</g>
</g></svg>
</body></html>
